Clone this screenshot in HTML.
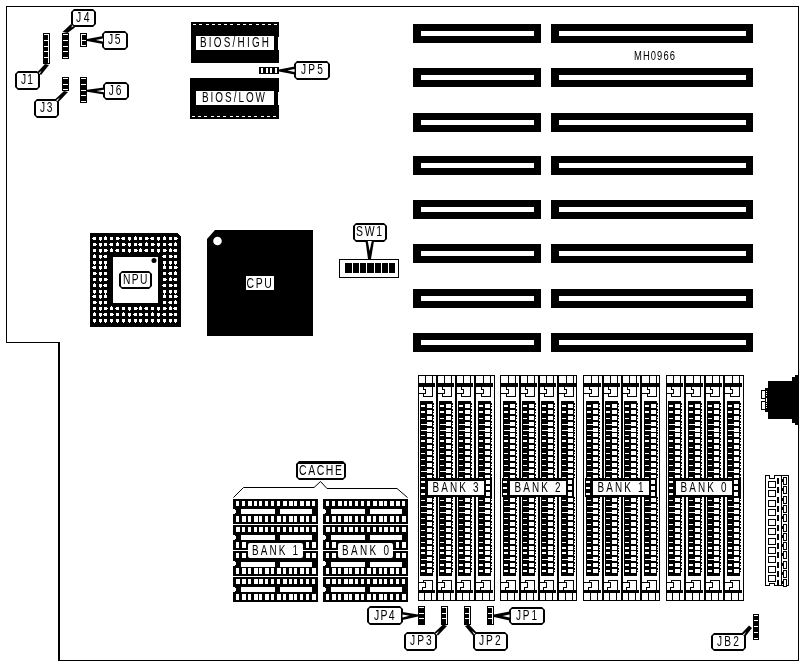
<!DOCTYPE html>
<html><head><meta charset="utf-8"><style>
html,body{margin:0;padding:0;background:#fff;}
svg{display:block;}
text{font-family:"Liberation Sans",sans-serif;}
svg{will-change:transform;}
</style></head><body>
<svg width="804" height="666" viewBox="0 0 804 666">
<rect x="0" y="0" width="804" height="666" fill="#fff"/>
<g shape-rendering="crispEdges">
<rect x="6" y="6" width="793" height="1" fill="#000" />
<rect x="6" y="6" width="1" height="337" fill="#000" />
<rect x="6" y="342" width="54" height="1" fill="#000" />
<rect x="58" y="342" width="2" height="319" fill="#000" />
<rect x="58" y="660" width="741" height="1" fill="#000" />
<rect x="798" y="6" width="1" height="655" fill="#000" />
<rect x="413" y="24" width="128" height="19" fill="#000" />
<rect x="421" y="31" width="113" height="5" fill="#fff" />
<rect x="551" y="24" width="202" height="19" fill="#000" />
<rect x="559" y="31" width="187" height="5" fill="#fff" />
<rect x="413" y="68" width="128" height="19" fill="#000" />
<rect x="421" y="75" width="113" height="5" fill="#fff" />
<rect x="551" y="68" width="202" height="19" fill="#000" />
<rect x="559" y="75" width="187" height="5" fill="#fff" />
<rect x="413" y="113" width="128" height="19" fill="#000" />
<rect x="421" y="120" width="113" height="5" fill="#fff" />
<rect x="551" y="113" width="202" height="19" fill="#000" />
<rect x="559" y="120" width="187" height="5" fill="#fff" />
<rect x="413" y="156" width="128" height="19" fill="#000" />
<rect x="421" y="163" width="113" height="5" fill="#fff" />
<rect x="551" y="156" width="202" height="19" fill="#000" />
<rect x="559" y="163" width="187" height="5" fill="#fff" />
<rect x="413" y="200" width="128" height="19" fill="#000" />
<rect x="421" y="207" width="113" height="5" fill="#fff" />
<rect x="551" y="200" width="202" height="19" fill="#000" />
<rect x="559" y="207" width="187" height="5" fill="#fff" />
<rect x="413" y="244" width="128" height="19" fill="#000" />
<rect x="421" y="251" width="113" height="5" fill="#fff" />
<rect x="551" y="244" width="202" height="19" fill="#000" />
<rect x="559" y="251" width="187" height="5" fill="#fff" />
<rect x="413" y="289" width="128" height="19" fill="#000" />
<rect x="421" y="296" width="113" height="5" fill="#fff" />
<rect x="551" y="289" width="202" height="19" fill="#000" />
<rect x="559" y="296" width="187" height="5" fill="#fff" />
<rect x="413" y="333" width="128" height="19" fill="#000" />
<rect x="421" y="340" width="113" height="5" fill="#fff" />
<rect x="551" y="333" width="202" height="19" fill="#000" />
<rect x="559" y="340" width="187" height="5" fill="#fff" />
</g>
<g transform="translate(634,60) scale(0.72,1)"><text x="0" y="0" font-size="13.08" textLength="56.94" lengthAdjust="spacing" fill="#000" font-weight="normal">MH0966</text></g>
<g shape-rendering="crispEdges">
<rect x="191" y="22" width="88" height="41" fill="#000" />
<rect x="196" y="36" width="78" height="14" fill="#fff" />
<rect x="278" y="37" width="1" height="13" fill="#fff" />
<rect x="193" y="24" width="3" height="1" fill="#fff" />
<rect x="199" y="24" width="3" height="1" fill="#fff" />
<rect x="206" y="24" width="3" height="1" fill="#fff" />
<rect x="212" y="24" width="3" height="1" fill="#fff" />
<rect x="218" y="24" width="3" height="1" fill="#fff" />
<rect x="224" y="24" width="3" height="1" fill="#fff" />
<rect x="230" y="24" width="3" height="1" fill="#fff" />
<rect x="237" y="24" width="3" height="1" fill="#fff" />
<rect x="243" y="24" width="3" height="1" fill="#fff" />
<rect x="249" y="24" width="3" height="1" fill="#fff" />
<rect x="256" y="24" width="3" height="1" fill="#fff" />
<rect x="262" y="24" width="3" height="1" fill="#fff" />
<rect x="268" y="24" width="3" height="1" fill="#fff" />
<rect x="274" y="24" width="3" height="1" fill="#fff" />
<g transform="translate(200,47) scale(0.72,1)"><text x="0" y="0" font-size="13.81" textLength="95.83" lengthAdjust="spacing" fill="#000" font-weight="normal">BIOS/HIGH</text></g>
<rect x="190" y="78" width="89" height="41" fill="#000" />
<rect x="196" y="91" width="78" height="14" fill="#fff" />
<rect x="278" y="92" width="1" height="13" fill="#fff" />
<rect x="192" y="116" width="3" height="1" fill="#fff" />
<rect x="198" y="116" width="3" height="1" fill="#fff" />
<rect x="204" y="116" width="3" height="1" fill="#fff" />
<rect x="211" y="116" width="3" height="1" fill="#fff" />
<rect x="217" y="116" width="3" height="1" fill="#fff" />
<rect x="223" y="116" width="3" height="1" fill="#fff" />
<rect x="230" y="116" width="3" height="1" fill="#fff" />
<rect x="236" y="116" width="3" height="1" fill="#fff" />
<rect x="242" y="116" width="3" height="1" fill="#fff" />
<rect x="248" y="116" width="3" height="1" fill="#fff" />
<rect x="254" y="116" width="3" height="1" fill="#fff" />
<rect x="261" y="116" width="3" height="1" fill="#fff" />
<rect x="267" y="116" width="3" height="1" fill="#fff" />
<rect x="273" y="116" width="3" height="1" fill="#fff" />
<g transform="translate(202,101.8) scale(0.72,1)"><text x="0" y="0" font-size="13.81" textLength="87.50" lengthAdjust="spacing" fill="#000" font-weight="normal">BIOS/LOW</text></g>
</g>
<g shape-rendering="crispEdges">
<rect x="43" y="33" width="7" height="31" fill="#000" />
<rect x="44" y="34" width="5" height="1" fill="#fff" />
<rect x="44" y="39.5" width="5" height="1" fill="#fff" />
<rect x="44" y="45.5" width="5" height="1" fill="#fff" />
<rect x="44" y="51" width="5" height="1" fill="#fff" />
<rect x="44" y="57" width="5" height="1" fill="#fff" />
<rect x="48" y="34" width="1" height="29" fill="#fff" />
<rect x="62" y="33" width="7" height="26" fill="#000" />
<rect x="63" y="34" width="5" height="1" fill="#fff" />
<rect x="63" y="39.5" width="5" height="1" fill="#fff" />
<rect x="63" y="45.5" width="5" height="1" fill="#fff" />
<rect x="63" y="51" width="5" height="1" fill="#fff" />
<rect x="63" y="57" width="5" height="1" fill="#fff" />
<rect x="62" y="77" width="7" height="14" fill="#000" />
<rect x="63" y="78" width="5" height="1" fill="#fff" />
<rect x="63" y="84" width="5" height="1" fill="#fff" />
<rect x="63" y="89" width="5" height="1" fill="#fff" />
<rect x="80" y="77" width="7" height="26" fill="#000" />
<rect x="81" y="78" width="5" height="1" fill="#fff" />
<rect x="81" y="84" width="5" height="1" fill="#fff" />
<rect x="81" y="89.5" width="5" height="1" fill="#fff" />
<rect x="81" y="95" width="5" height="1" fill="#fff" />
<rect x="81" y="101" width="5" height="1" fill="#fff" />
<rect x="80" y="33" width="7" height="14" fill="#000" />
<rect x="81" y="34" width="5" height="1" fill="#fff" />
<rect x="81" y="40" width="5" height="1" fill="#fff" />
<rect x="81" y="45" width="5" height="1" fill="#fff" />
<rect x="81" y="34" width="1" height="12" fill="#fff" />
<rect x="259" y="67" width="20" height="7" fill="#000" />
<rect x="261" y="68" width="2" height="5" fill="#fff" />
<rect x="265.5" y="68" width="2" height="5" fill="#fff" />
<rect x="270" y="68" width="2" height="5" fill="#fff" />
<rect x="274.5" y="68" width="2" height="5" fill="#fff" />
<rect x="753" y="614" width="6" height="26" fill="#000" />
<rect x="754" y="615" width="4" height="1" fill="#fff" />
<rect x="754" y="620" width="4" height="1" fill="#fff" />
<rect x="754" y="626" width="4" height="1" fill="#fff" />
<rect x="754" y="632" width="4" height="1" fill="#fff" />
<rect x="754" y="638" width="4" height="1" fill="#fff" />
<rect x="418" y="606" width="7" height="19" fill="#000" />
<rect x="419" y="607" width="5" height="1" fill="#fff" />
<rect x="419" y="613" width="5" height="1" fill="#fff" />
<rect x="419" y="618" width="5" height="1" fill="#fff" />
<rect x="441" y="606" width="7" height="19" fill="#000" />
<rect x="442" y="607" width="5" height="1" fill="#fff" />
<rect x="442" y="613" width="5" height="1" fill="#fff" />
<rect x="442" y="618" width="5" height="1" fill="#fff" />
<rect x="446" y="607" width="1" height="17" fill="#fff" />
<rect x="464" y="606" width="7" height="19" fill="#000" />
<rect x="465" y="607" width="5" height="1" fill="#fff" />
<rect x="465" y="613" width="5" height="1" fill="#fff" />
<rect x="465" y="618" width="5" height="1" fill="#fff" />
<rect x="469" y="607" width="1" height="17" fill="#fff" />
<rect x="487" y="606" width="7" height="19" fill="#000" />
<rect x="488" y="607" width="5" height="1" fill="#fff" />
<rect x="488" y="613" width="5" height="1" fill="#fff" />
<rect x="488" y="618" width="5" height="1" fill="#fff" />
<rect x="492" y="607" width="1" height="17" fill="#fff" />
</g>
<polygon points="74,9 93,9 96,12 96,24 93,27 74,27 71,24 71,12" fill="#000" stroke="none" stroke-width="1" />
<polygon points="74,11 93,11 94,12 94,24 93,25 74,25 73,24 73,12" fill="#fff" stroke="none" stroke-width="1" />
<g transform="translate(76,22) scale(0.72,1)"><text x="0" y="0" font-size="14.53" textLength="18.75" lengthAdjust="spacing" fill="#000" font-weight="normal">J4</text></g>
<polygon points="105,31 125,31 128,34 128,47 125,50 105,50 102,47 102,34" fill="#000" stroke="none" stroke-width="1" />
<polygon points="105,33 125,33 126,34 126,47 125,48 105,48 104,47 104,34" fill="#fff" stroke="none" stroke-width="1" />
<g transform="translate(108,43.9) scale(0.72,1)"><text x="0" y="0" font-size="14.39" textLength="17.36" lengthAdjust="spacing" fill="#000" font-weight="normal">J5</text></g>
<polygon points="18,71 37,71 40,74 40,87 37,90 18,90 15,87 15,74" fill="#000" stroke="none" stroke-width="1" />
<polygon points="18,73 37,73 38,74 38,87 37,88 18,88 17,87 17,74" fill="#fff" stroke="none" stroke-width="1" />
<g transform="translate(21,84) scale(0.72,1)"><text x="0" y="0" font-size="14.24" textLength="16.67" lengthAdjust="spacing" fill="#000" font-weight="normal">J1</text></g>
<polygon points="37,99 56,99 59,102 59,115 56,118 37,118 34,115 34,102" fill="#000" stroke="none" stroke-width="1" />
<polygon points="37,101 56,101 57,102 57,115 56,116 37,116 36,115 36,102" fill="#fff" stroke="none" stroke-width="1" />
<g transform="translate(40,112) scale(0.72,1)"><text x="0" y="0" font-size="14.10" textLength="17.36" lengthAdjust="spacing" fill="#000" font-weight="normal">J3</text></g>
<polygon points="106,82 126,82 129,85 129,97 126,100 106,100 103,97 103,85" fill="#000" stroke="none" stroke-width="1" />
<polygon points="106,84 126,84 127,85 127,97 126,98 106,98 105,97 105,85" fill="#fff" stroke="none" stroke-width="1" />
<g transform="translate(108.7,95) scale(0.72,1)"><text x="0" y="0" font-size="14.24" textLength="17.78" lengthAdjust="spacing" fill="#000" font-weight="normal">J6</text></g>
<polygon points="297,61 327,61 330,64 330,77 327,80 297,80 294,77 294,64" fill="#000" stroke="none" stroke-width="1" />
<polygon points="297,63 327,63 328,64 328,77 327,78 297,78 296,77 296,64" fill="#fff" stroke="none" stroke-width="1" />
<g transform="translate(301,74) scale(0.72,1)"><text x="0" y="0" font-size="14.10" textLength="30.56" lengthAdjust="spacing" fill="#000" font-weight="normal">JP5</text></g>
<polygon points="356,223 384,223 387,226 387,239 384,242 356,242 353,239 353,226" fill="#000" stroke="none" stroke-width="1" />
<polygon points="356,225 384,225 385,226 385,239 384,240 356,240 355,239 355,226" fill="#fff" stroke="none" stroke-width="1" />
<g transform="translate(356,236) scale(0.72,1)"><text x="0" y="0" font-size="14.53" textLength="36.11" lengthAdjust="spacing" fill="#000" font-weight="normal">SW1</text></g>
<polygon points="714,633 743,633 746,636 746,648 743,651 714,651 711,648 711,636" fill="#000" stroke="none" stroke-width="1" />
<polygon points="714,635 743,635 744,636 744,648 743,649 714,649 713,648 713,636" fill="#fff" stroke="none" stroke-width="1" />
<g transform="translate(717,646) scale(0.72,1)"><text x="0" y="0" font-size="14.10" textLength="30.56" lengthAdjust="spacing" fill="#000" font-weight="normal">JB2</text></g>
<polygon points="370,606 400,606 403,609 403,622 400,625 370,625 367,622 367,609" fill="#000" stroke="none" stroke-width="1" />
<polygon points="370,608 400,608 401,609 401,622 400,623 370,623 369,622 369,609" fill="#fff" stroke="none" stroke-width="1" />
<g transform="translate(374,620) scale(0.72,1)"><text x="0" y="0" font-size="14.53" textLength="28.47" lengthAdjust="spacing" fill="#000" font-weight="normal">JP4</text></g>
<polygon points="407,632 434,632 437,635 437,648 434,651 407,651 404,648 404,635" fill="#000" stroke="none" stroke-width="1" />
<polygon points="407,634 434,634 435,635 435,648 434,649 407,649 406,648 406,635" fill="#fff" stroke="none" stroke-width="1" />
<g transform="translate(410,645) scale(0.72,1)"><text x="0" y="0" font-size="14.24" textLength="30.28" lengthAdjust="spacing" fill="#000" font-weight="normal">JP3</text></g>
<polygon points="476,632 505,632 508,635 508,648 505,651 476,651 473,648 473,635" fill="#000" stroke="none" stroke-width="1" />
<polygon points="476,634 505,634 506,635 506,648 505,649 476,649 475,648 475,635" fill="#fff" stroke="none" stroke-width="1" />
<g transform="translate(479,644.8) scale(0.72,1)"><text x="0" y="0" font-size="14.24" textLength="30.00" lengthAdjust="spacing" fill="#000" font-weight="normal">JP2</text></g>
<polygon points="512,607 542,607 545,610 545,622 542,625 512,625 509,622 509,610" fill="#000" stroke="none" stroke-width="1" />
<polygon points="512,609 542,609 543,610 543,622 542,623 512,623 511,622 511,610" fill="#fff" stroke="none" stroke-width="1" />
<g transform="translate(516,619.7) scale(0.72,1)"><text x="0" y="0" font-size="13.95" textLength="29.17" lengthAdjust="spacing" fill="#000" font-weight="normal">JP1</text></g>
<polygon points="71,24 75,27.5 67.5,33 62.5,32" fill="#000" stroke="none" stroke-width="1" />
<polygon points="72.54845398317588,25.35489723527889 73.45154601682412,26.14510276472111 71.0,27.4375" fill="#fff" stroke="none" stroke-width="1" />
<polygon points="103,36 103,44 87,41 87,39" fill="#000" stroke="none" stroke-width="1" />
<polygon points="103.0,38.5 103.0,41.5 95.8,40.0" fill="#fff" stroke="none" stroke-width="1" />
<polygon points="37.5,72 41,75 49,65 45,64" fill="#000" stroke="none" stroke-width="1" />
<polygon points="38.79444603858082,73.10952517592642 39.70555396141918,73.89047482407358 41.575,70.8" fill="#fff" stroke="none" stroke-width="1" />
<polygon points="55,99.5 58.5,102 68,92 64,91" fill="#000" stroke="none" stroke-width="1" />
<polygon points="56.180386570155285,100.34313326439663 57.319613429844715,101.15686673560337 59.9875,97.5125" fill="#fff" stroke="none" stroke-width="1" />
<polygon points="104,87.5 104,94.5 87,91.8 87,89.8" fill="#000" stroke="none" stroke-width="1" />
<polygon points="104.0,89.7 104.0,92.3 96.35,90.91" fill="#fff" stroke="none" stroke-width="1" />
<polygon points="294.5,66.5 294.5,74.5 279,71.5 279,69.5" fill="#000" stroke="none" stroke-width="1" />
<polygon points="294.5,69.0 294.5,72.0 287.525,70.5" fill="#fff" stroke="none" stroke-width="1" />
<polygon points="365.5,241 374,241 371,259 368,259" fill="#000" stroke="none" stroke-width="1" />
<polygon points="367.75,241.0 371.75,241.0 369.6125,250.9" fill="#fff" stroke="none" stroke-width="1" />
<polygon points="741.5,633.5 745,637 752,628 749,625.5" fill="#000" stroke="none" stroke-width="1" />
<polygon points="742.825735931288,634.825735931288 743.674264068712,635.674264068712 746.15,631.85" fill="#fff" stroke="none" stroke-width="1" />
<polygon points="402.5,612 402.5,620 418,616.5 418,614.5" fill="#000" stroke="none" stroke-width="1" />
<polygon points="402.5,614.5 402.5,617.5 409.475,615.775" fill="#fff" stroke="none" stroke-width="1" />
<polygon points="434.5,632.5 438,635.5 447,626 443,624.5" fill="#000" stroke="none" stroke-width="1" />
<polygon points="435.7944460385808,633.6095251759264 436.7055539614192,634.3904748240736 439.3125,630.9375" fill="#fff" stroke="none" stroke-width="1" />
<polygon points="473,635.5 476.5,632.5 469,624.5 465,626" fill="#000" stroke="none" stroke-width="1" />
<polygon points="474.2944460385808,634.3904748240736 475.2055539614192,633.6095251759264 472.0375,630.9375" fill="#fff" stroke="none" stroke-width="1" />
<polygon points="509.5,611.5 509.5,620.5 494,617 494,614.5" fill="#000" stroke="none" stroke-width="1" />
<polygon points="509.5,614.5 509.5,617.5 502.525,615.8875" fill="#fff" stroke="none" stroke-width="1" />
<g shape-rendering="crispEdges">
<polygon points="90,233 177,233 181,237 181,327 90,327" fill="#000" stroke="none" stroke-width="1" />
<rect x="93" y="237" width="3" height="3" fill="#fff" />
<rect x="92" y="238" width="1" height="1" fill="#fff" />
<rect x="99" y="237" width="3" height="3" fill="#fff" />
<rect x="100" y="240" width="1" height="1" fill="#fff" />
<rect x="104" y="237" width="3" height="3" fill="#fff" />
<rect x="105" y="236" width="1" height="1" fill="#fff" />
<rect x="110" y="237" width="3" height="3" fill="#fff" />
<rect x="116" y="237" width="3" height="3" fill="#fff" />
<rect x="119" y="238" width="1" height="1" fill="#fff" />
<rect x="122" y="237" width="3" height="3" fill="#fff" />
<rect x="121" y="238" width="1" height="1" fill="#fff" />
<rect x="128" y="237" width="3" height="3" fill="#fff" />
<rect x="129" y="240" width="1" height="1" fill="#fff" />
<rect x="134" y="237" width="3" height="3" fill="#fff" />
<rect x="135" y="236" width="1" height="1" fill="#fff" />
<rect x="139" y="237" width="3" height="3" fill="#fff" />
<rect x="145" y="237" width="3" height="3" fill="#fff" />
<rect x="148" y="238" width="1" height="1" fill="#fff" />
<rect x="151" y="237" width="3" height="3" fill="#fff" />
<rect x="150" y="238" width="1" height="1" fill="#fff" />
<rect x="157" y="237" width="3" height="3" fill="#fff" />
<rect x="158" y="240" width="1" height="1" fill="#fff" />
<rect x="163" y="237" width="3" height="3" fill="#fff" />
<rect x="164" y="236" width="1" height="1" fill="#fff" />
<rect x="169" y="237" width="3" height="3" fill="#fff" />
<rect x="174" y="237" width="3" height="3" fill="#fff" />
<rect x="177" y="238" width="1" height="1" fill="#fff" />
<rect x="93" y="243" width="3" height="3" fill="#fff" />
<rect x="96" y="244" width="1" height="1" fill="#fff" />
<rect x="99" y="243" width="3" height="3" fill="#fff" />
<rect x="100" y="246" width="1" height="1" fill="#fff" />
<rect x="104" y="243" width="3" height="3" fill="#fff" />
<rect x="110" y="243" width="3" height="3" fill="#fff" />
<rect x="109" y="244" width="1" height="1" fill="#fff" />
<rect x="116" y="243" width="3" height="3" fill="#fff" />
<rect x="117" y="242" width="1" height="1" fill="#fff" />
<rect x="122" y="243" width="3" height="3" fill="#fff" />
<rect x="125" y="244" width="1" height="1" fill="#fff" />
<rect x="128" y="243" width="3" height="3" fill="#fff" />
<rect x="129" y="246" width="1" height="1" fill="#fff" />
<rect x="134" y="243" width="3" height="3" fill="#fff" />
<rect x="139" y="243" width="3" height="3" fill="#fff" />
<rect x="138" y="244" width="1" height="1" fill="#fff" />
<rect x="145" y="243" width="3" height="3" fill="#fff" />
<rect x="146" y="242" width="1" height="1" fill="#fff" />
<rect x="151" y="243" width="3" height="3" fill="#fff" />
<rect x="154" y="244" width="1" height="1" fill="#fff" />
<rect x="157" y="243" width="3" height="3" fill="#fff" />
<rect x="158" y="246" width="1" height="1" fill="#fff" />
<rect x="163" y="243" width="3" height="3" fill="#fff" />
<rect x="169" y="243" width="3" height="3" fill="#fff" />
<rect x="168" y="244" width="1" height="1" fill="#fff" />
<rect x="174" y="243" width="3" height="3" fill="#fff" />
<rect x="175" y="242" width="1" height="1" fill="#fff" />
<rect x="93" y="249" width="3" height="3" fill="#fff" />
<rect x="99" y="249" width="3" height="3" fill="#fff" />
<rect x="100" y="252" width="1" height="1" fill="#fff" />
<rect x="104" y="249" width="3" height="3" fill="#fff" />
<rect x="107" y="250" width="1" height="1" fill="#fff" />
<rect x="110" y="249" width="3" height="3" fill="#fff" />
<rect x="111" y="248" width="1" height="1" fill="#fff" />
<rect x="116" y="249" width="3" height="3" fill="#fff" />
<rect x="115" y="250" width="1" height="1" fill="#fff" />
<rect x="122" y="249" width="3" height="3" fill="#fff" />
<rect x="128" y="249" width="3" height="3" fill="#fff" />
<rect x="129" y="252" width="1" height="1" fill="#fff" />
<rect x="134" y="249" width="3" height="3" fill="#fff" />
<rect x="137" y="250" width="1" height="1" fill="#fff" />
<rect x="139" y="249" width="3" height="3" fill="#fff" />
<rect x="140" y="248" width="1" height="1" fill="#fff" />
<rect x="145" y="249" width="3" height="3" fill="#fff" />
<rect x="144" y="250" width="1" height="1" fill="#fff" />
<rect x="151" y="249" width="3" height="3" fill="#fff" />
<rect x="157" y="249" width="3" height="3" fill="#fff" />
<rect x="158" y="252" width="1" height="1" fill="#fff" />
<rect x="163" y="249" width="3" height="3" fill="#fff" />
<rect x="166" y="250" width="1" height="1" fill="#fff" />
<rect x="169" y="249" width="3" height="3" fill="#fff" />
<rect x="170" y="248" width="1" height="1" fill="#fff" />
<rect x="174" y="249" width="3" height="3" fill="#fff" />
<rect x="173" y="250" width="1" height="1" fill="#fff" />
<rect x="93" y="255" width="3" height="3" fill="#fff" />
<rect x="94" y="254" width="1" height="1" fill="#fff" />
<rect x="99" y="255" width="3" height="3" fill="#fff" />
<rect x="100" y="258" width="1" height="1" fill="#fff" />
<rect x="104" y="255" width="3" height="3" fill="#fff" />
<rect x="103" y="256" width="1" height="1" fill="#fff" />
<rect x="163" y="255" width="3" height="3" fill="#fff" />
<rect x="162" y="256" width="1" height="1" fill="#fff" />
<rect x="169" y="255" width="3" height="3" fill="#fff" />
<rect x="172" y="256" width="1" height="1" fill="#fff" />
<rect x="174" y="255" width="3" height="3" fill="#fff" />
<rect x="93" y="261" width="3" height="3" fill="#fff" />
<rect x="94" y="264" width="1" height="1" fill="#fff" />
<rect x="99" y="261" width="3" height="3" fill="#fff" />
<rect x="100" y="264" width="1" height="1" fill="#fff" />
<rect x="104" y="261" width="3" height="3" fill="#fff" />
<rect x="105" y="264" width="1" height="1" fill="#fff" />
<rect x="163" y="261" width="3" height="3" fill="#fff" />
<rect x="164" y="264" width="1" height="1" fill="#fff" />
<rect x="169" y="261" width="3" height="3" fill="#fff" />
<rect x="170" y="264" width="1" height="1" fill="#fff" />
<rect x="174" y="261" width="3" height="3" fill="#fff" />
<rect x="175" y="264" width="1" height="1" fill="#fff" />
<rect x="93" y="266" width="3" height="3" fill="#fff" />
<rect x="92" y="267" width="1" height="1" fill="#fff" />
<rect x="99" y="266" width="3" height="3" fill="#fff" />
<rect x="100" y="269" width="1" height="1" fill="#fff" />
<rect x="104" y="266" width="3" height="3" fill="#fff" />
<rect x="105" y="265" width="1" height="1" fill="#fff" />
<rect x="163" y="266" width="3" height="3" fill="#fff" />
<rect x="164" y="265" width="1" height="1" fill="#fff" />
<rect x="169" y="266" width="3" height="3" fill="#fff" />
<rect x="174" y="266" width="3" height="3" fill="#fff" />
<rect x="177" y="267" width="1" height="1" fill="#fff" />
<rect x="93" y="272" width="3" height="3" fill="#fff" />
<rect x="96" y="273" width="1" height="1" fill="#fff" />
<rect x="99" y="272" width="3" height="3" fill="#fff" />
<rect x="100" y="275" width="1" height="1" fill="#fff" />
<rect x="104" y="272" width="3" height="3" fill="#fff" />
<rect x="163" y="272" width="3" height="3" fill="#fff" />
<rect x="169" y="272" width="3" height="3" fill="#fff" />
<rect x="168" y="273" width="1" height="1" fill="#fff" />
<rect x="174" y="272" width="3" height="3" fill="#fff" />
<rect x="175" y="271" width="1" height="1" fill="#fff" />
<rect x="93" y="278" width="3" height="3" fill="#fff" />
<rect x="99" y="278" width="3" height="3" fill="#fff" />
<rect x="100" y="281" width="1" height="1" fill="#fff" />
<rect x="104" y="278" width="3" height="3" fill="#fff" />
<rect x="107" y="279" width="1" height="1" fill="#fff" />
<rect x="163" y="278" width="3" height="3" fill="#fff" />
<rect x="166" y="279" width="1" height="1" fill="#fff" />
<rect x="169" y="278" width="3" height="3" fill="#fff" />
<rect x="170" y="277" width="1" height="1" fill="#fff" />
<rect x="174" y="278" width="3" height="3" fill="#fff" />
<rect x="173" y="279" width="1" height="1" fill="#fff" />
<rect x="93" y="284" width="3" height="3" fill="#fff" />
<rect x="94" y="283" width="1" height="1" fill="#fff" />
<rect x="99" y="284" width="3" height="3" fill="#fff" />
<rect x="100" y="287" width="1" height="1" fill="#fff" />
<rect x="104" y="284" width="3" height="3" fill="#fff" />
<rect x="103" y="285" width="1" height="1" fill="#fff" />
<rect x="163" y="284" width="3" height="3" fill="#fff" />
<rect x="162" y="285" width="1" height="1" fill="#fff" />
<rect x="169" y="284" width="3" height="3" fill="#fff" />
<rect x="172" y="285" width="1" height="1" fill="#fff" />
<rect x="174" y="284" width="3" height="3" fill="#fff" />
<rect x="93" y="290" width="3" height="3" fill="#fff" />
<rect x="94" y="293" width="1" height="1" fill="#fff" />
<rect x="99" y="290" width="3" height="3" fill="#fff" />
<rect x="100" y="293" width="1" height="1" fill="#fff" />
<rect x="104" y="290" width="3" height="3" fill="#fff" />
<rect x="105" y="293" width="1" height="1" fill="#fff" />
<rect x="163" y="290" width="3" height="3" fill="#fff" />
<rect x="164" y="293" width="1" height="1" fill="#fff" />
<rect x="169" y="290" width="3" height="3" fill="#fff" />
<rect x="170" y="293" width="1" height="1" fill="#fff" />
<rect x="174" y="290" width="3" height="3" fill="#fff" />
<rect x="175" y="293" width="1" height="1" fill="#fff" />
<rect x="93" y="295" width="3" height="3" fill="#fff" />
<rect x="92" y="296" width="1" height="1" fill="#fff" />
<rect x="99" y="295" width="3" height="3" fill="#fff" />
<rect x="100" y="298" width="1" height="1" fill="#fff" />
<rect x="104" y="295" width="3" height="3" fill="#fff" />
<rect x="105" y="294" width="1" height="1" fill="#fff" />
<rect x="163" y="295" width="3" height="3" fill="#fff" />
<rect x="164" y="294" width="1" height="1" fill="#fff" />
<rect x="169" y="295" width="3" height="3" fill="#fff" />
<rect x="174" y="295" width="3" height="3" fill="#fff" />
<rect x="177" y="296" width="1" height="1" fill="#fff" />
<rect x="93" y="301" width="3" height="3" fill="#fff" />
<rect x="96" y="302" width="1" height="1" fill="#fff" />
<rect x="99" y="301" width="3" height="3" fill="#fff" />
<rect x="100" y="304" width="1" height="1" fill="#fff" />
<rect x="104" y="301" width="3" height="3" fill="#fff" />
<rect x="163" y="301" width="3" height="3" fill="#fff" />
<rect x="169" y="301" width="3" height="3" fill="#fff" />
<rect x="168" y="302" width="1" height="1" fill="#fff" />
<rect x="174" y="301" width="3" height="3" fill="#fff" />
<rect x="175" y="300" width="1" height="1" fill="#fff" />
<rect x="93" y="307" width="3" height="3" fill="#fff" />
<rect x="99" y="307" width="3" height="3" fill="#fff" />
<rect x="100" y="310" width="1" height="1" fill="#fff" />
<rect x="104" y="307" width="3" height="3" fill="#fff" />
<rect x="107" y="308" width="1" height="1" fill="#fff" />
<rect x="110" y="307" width="3" height="3" fill="#fff" />
<rect x="111" y="306" width="1" height="1" fill="#fff" />
<rect x="116" y="307" width="3" height="3" fill="#fff" />
<rect x="115" y="308" width="1" height="1" fill="#fff" />
<rect x="122" y="307" width="3" height="3" fill="#fff" />
<rect x="128" y="307" width="3" height="3" fill="#fff" />
<rect x="129" y="310" width="1" height="1" fill="#fff" />
<rect x="134" y="307" width="3" height="3" fill="#fff" />
<rect x="137" y="308" width="1" height="1" fill="#fff" />
<rect x="139" y="307" width="3" height="3" fill="#fff" />
<rect x="140" y="306" width="1" height="1" fill="#fff" />
<rect x="145" y="307" width="3" height="3" fill="#fff" />
<rect x="144" y="308" width="1" height="1" fill="#fff" />
<rect x="151" y="307" width="3" height="3" fill="#fff" />
<rect x="157" y="307" width="3" height="3" fill="#fff" />
<rect x="158" y="310" width="1" height="1" fill="#fff" />
<rect x="163" y="307" width="3" height="3" fill="#fff" />
<rect x="166" y="308" width="1" height="1" fill="#fff" />
<rect x="169" y="307" width="3" height="3" fill="#fff" />
<rect x="170" y="306" width="1" height="1" fill="#fff" />
<rect x="174" y="307" width="3" height="3" fill="#fff" />
<rect x="173" y="308" width="1" height="1" fill="#fff" />
<rect x="93" y="313" width="3" height="3" fill="#fff" />
<rect x="94" y="312" width="1" height="1" fill="#fff" />
<rect x="99" y="313" width="3" height="3" fill="#fff" />
<rect x="100" y="316" width="1" height="1" fill="#fff" />
<rect x="104" y="313" width="3" height="3" fill="#fff" />
<rect x="103" y="314" width="1" height="1" fill="#fff" />
<rect x="110" y="313" width="3" height="3" fill="#fff" />
<rect x="113" y="314" width="1" height="1" fill="#fff" />
<rect x="116" y="313" width="3" height="3" fill="#fff" />
<rect x="122" y="313" width="3" height="3" fill="#fff" />
<rect x="123" y="312" width="1" height="1" fill="#fff" />
<rect x="128" y="313" width="3" height="3" fill="#fff" />
<rect x="129" y="316" width="1" height="1" fill="#fff" />
<rect x="134" y="313" width="3" height="3" fill="#fff" />
<rect x="133" y="314" width="1" height="1" fill="#fff" />
<rect x="139" y="313" width="3" height="3" fill="#fff" />
<rect x="142" y="314" width="1" height="1" fill="#fff" />
<rect x="145" y="313" width="3" height="3" fill="#fff" />
<rect x="151" y="313" width="3" height="3" fill="#fff" />
<rect x="152" y="312" width="1" height="1" fill="#fff" />
<rect x="157" y="313" width="3" height="3" fill="#fff" />
<rect x="158" y="316" width="1" height="1" fill="#fff" />
<rect x="163" y="313" width="3" height="3" fill="#fff" />
<rect x="162" y="314" width="1" height="1" fill="#fff" />
<rect x="169" y="313" width="3" height="3" fill="#fff" />
<rect x="172" y="314" width="1" height="1" fill="#fff" />
<rect x="174" y="313" width="3" height="3" fill="#fff" />
<rect x="93" y="319" width="3" height="3" fill="#fff" />
<rect x="94" y="322" width="1" height="1" fill="#fff" />
<rect x="99" y="319" width="3" height="3" fill="#fff" />
<rect x="100" y="322" width="1" height="1" fill="#fff" />
<rect x="104" y="319" width="3" height="3" fill="#fff" />
<rect x="105" y="322" width="1" height="1" fill="#fff" />
<rect x="110" y="319" width="3" height="3" fill="#fff" />
<rect x="111" y="322" width="1" height="1" fill="#fff" />
<rect x="116" y="319" width="3" height="3" fill="#fff" />
<rect x="117" y="322" width="1" height="1" fill="#fff" />
<rect x="122" y="319" width="3" height="3" fill="#fff" />
<rect x="123" y="322" width="1" height="1" fill="#fff" />
<rect x="128" y="319" width="3" height="3" fill="#fff" />
<rect x="129" y="322" width="1" height="1" fill="#fff" />
<rect x="134" y="319" width="3" height="3" fill="#fff" />
<rect x="135" y="322" width="1" height="1" fill="#fff" />
<rect x="139" y="319" width="3" height="3" fill="#fff" />
<rect x="140" y="322" width="1" height="1" fill="#fff" />
<rect x="145" y="319" width="3" height="3" fill="#fff" />
<rect x="146" y="322" width="1" height="1" fill="#fff" />
<rect x="151" y="319" width="3" height="3" fill="#fff" />
<rect x="152" y="322" width="1" height="1" fill="#fff" />
<rect x="157" y="319" width="3" height="3" fill="#fff" />
<rect x="158" y="322" width="1" height="1" fill="#fff" />
<rect x="163" y="319" width="3" height="3" fill="#fff" />
<rect x="164" y="322" width="1" height="1" fill="#fff" />
<rect x="169" y="319" width="3" height="3" fill="#fff" />
<rect x="170" y="322" width="1" height="1" fill="#fff" />
<rect x="174" y="319" width="3" height="3" fill="#fff" />
<rect x="175" y="322" width="1" height="1" fill="#fff" />
<rect x="113" y="257" width="45" height="46" fill="#fff" />
</g>
<circle cx="154" cy="260.5" r="2.5" fill="#000"/>
<polygon points="122,271 149,271 152,274 152,286 149,289 122,289 119,286 119,274" fill="#000" stroke="none" stroke-width="1" />
<polygon points="122,273 149,273 150,274 150,286 149,287 122,287 121,286 121,274" fill="#fff" stroke="none" stroke-width="1" />
<g transform="translate(123,283.8) scale(0.72,1)"><text x="0" y="0" font-size="14.24" textLength="34.03" lengthAdjust="spacing" fill="#000" font-weight="normal">NPU</text></g>
<polygon points="215,230 313,230 313,336 207,336 207,239" fill="#000" stroke="none" stroke-width="1" />
<circle cx="217.5" cy="241" r="4.3" fill="#fff"/>
<rect x="246" y="276" width="28" height="14" fill="#fff" />
<g transform="translate(246.5,288) scale(0.72,1)"><text x="0" y="0" font-size="14.53" textLength="35.14" lengthAdjust="spacing" fill="#000" font-weight="normal">CPU</text></g>
<g shape-rendering="crispEdges">
<rect x="339" y="259" width="60" height="19" fill="#000" />
<rect x="340" y="260" width="58" height="17" fill="#fff" />
<rect x="345" y="263" width="50" height="10" fill="#000" />
<rect x="352" y="263" width="1" height="10" fill="#fff" />
<rect x="359" y="263" width="1" height="10" fill="#fff" />
<rect x="366" y="263" width="1" height="10" fill="#fff" />
<rect x="374" y="263" width="1" height="10" fill="#fff" />
<rect x="381" y="263" width="1" height="10" fill="#fff" />
<rect x="388" y="263" width="1" height="10" fill="#fff" />
</g>
<g shape-rendering="crispEdges">
<rect x="418" y="375" width="77" height="1" fill="#000" />
<rect x="418" y="600" width="77" height="1" fill="#000" />
<rect x="418" y="375" width="1" height="226" fill="#000" />
<rect x="494" y="375" width="1" height="226" fill="#000" />
<rect x="436" y="375" width="2" height="226" fill="#000" />
<rect x="425" y="376" width="1" height="7" fill="#000" />
<rect x="432" y="376" width="1" height="7" fill="#000" />
<rect x="424" y="593" width="1" height="7" fill="#000" />
<rect x="431" y="593" width="1" height="7" fill="#000" />
<rect x="418" y="383" width="17" height="4" fill="#000" />
<rect x="418" y="590" width="17" height="3" fill="#000" />
<polyline points="432.5,387 432.5,396.5 423.5,396.5 423.5,393.5 418,393.5" fill="none" stroke="#000" stroke-width="1" />
<polyline points="423.5,387 423.5,389.5 425.5,389.5 425.5,393.5 423,393.5" fill="none" stroke="#000" stroke-width="1" />
<polyline points="432.5,590 432.5,580.5 423.5,580.5 423.5,582.5 418,582.5" fill="none" stroke="#000" stroke-width="1" />
<polyline points="422.5,590 422.5,587.5 425.5,587.5 425.5,582.5 423,582.5" fill="none" stroke="#000" stroke-width="1" />
<rect x="420" y="401" width="13" height="175" fill="#000" />
<rect x="427" y="404" width="5" height="4" fill="#fff" />
<rect x="421" y="405" width="4" height="2" fill="#fff" />
<rect x="433" y="403" width="1" height="2" fill="#000" />
<rect x="433" y="406" width="1" height="1" fill="#000" />
<rect x="427" y="410" width="5" height="4" fill="#fff" />
<rect x="421" y="411" width="4" height="2" fill="#fff" />
<rect x="433" y="409" width="1" height="2" fill="#000" />
<rect x="433" y="412" width="1" height="1" fill="#000" />
<rect x="427" y="416" width="5" height="4" fill="#fff" />
<rect x="421" y="418" width="4" height="1" fill="#fff" />
<rect x="433" y="415" width="1" height="2" fill="#000" />
<rect x="433" y="418" width="1" height="1" fill="#000" />
<rect x="427" y="422" width="5" height="4" fill="#fff" />
<rect x="421" y="424" width="6" height="1" fill="#fff" />
<rect x="433" y="421" width="1" height="2" fill="#000" />
<rect x="433" y="424" width="1" height="1" fill="#000" />
<rect x="427" y="428" width="5" height="4" fill="#fff" />
<rect x="421" y="430" width="6" height="1" fill="#fff" />
<rect x="433" y="427" width="1" height="2" fill="#000" />
<rect x="433" y="430" width="1" height="1" fill="#000" />
<rect x="427" y="433" width="5" height="4" fill="#fff" />
<rect x="421" y="435" width="4" height="1" fill="#fff" />
<rect x="433" y="432" width="1" height="2" fill="#000" />
<rect x="433" y="435" width="1" height="1" fill="#000" />
<rect x="427" y="439" width="5" height="4" fill="#fff" />
<rect x="421" y="440" width="4" height="2" fill="#fff" />
<rect x="433" y="438" width="1" height="2" fill="#000" />
<rect x="433" y="441" width="1" height="1" fill="#000" />
<rect x="427" y="445" width="5" height="4" fill="#fff" />
<rect x="421" y="447" width="4" height="1" fill="#fff" />
<rect x="433" y="444" width="1" height="2" fill="#000" />
<rect x="433" y="447" width="1" height="1" fill="#000" />
<rect x="427" y="451" width="5" height="4" fill="#fff" />
<rect x="421" y="453" width="4" height="1" fill="#fff" />
<rect x="433" y="450" width="1" height="2" fill="#000" />
<rect x="433" y="453" width="1" height="1" fill="#000" />
<rect x="427" y="457" width="5" height="4" fill="#fff" />
<rect x="421" y="459" width="4" height="1" fill="#fff" />
<rect x="433" y="456" width="1" height="2" fill="#000" />
<rect x="433" y="459" width="1" height="1" fill="#000" />
<rect x="427" y="463" width="5" height="4" fill="#fff" />
<rect x="421" y="465" width="4" height="1" fill="#fff" />
<rect x="433" y="462" width="1" height="2" fill="#000" />
<rect x="433" y="465" width="1" height="1" fill="#000" />
<rect x="427" y="469" width="5" height="4" fill="#fff" />
<rect x="421" y="471" width="6" height="1" fill="#fff" />
<rect x="433" y="468" width="1" height="2" fill="#000" />
<rect x="433" y="471" width="1" height="1" fill="#000" />
<rect x="427" y="475" width="5" height="4" fill="#fff" />
<rect x="421" y="477" width="4" height="1" fill="#fff" />
<rect x="433" y="474" width="1" height="2" fill="#000" />
<rect x="433" y="477" width="1" height="1" fill="#000" />
<rect x="427" y="498" width="5" height="4" fill="#fff" />
<rect x="421" y="500" width="4" height="1" fill="#fff" />
<rect x="433" y="497" width="1" height="2" fill="#000" />
<rect x="433" y="500" width="1" height="1" fill="#000" />
<rect x="427" y="504" width="5" height="4" fill="#fff" />
<rect x="421" y="506" width="6" height="1" fill="#fff" />
<rect x="433" y="503" width="1" height="2" fill="#000" />
<rect x="433" y="506" width="1" height="1" fill="#000" />
<rect x="427" y="510" width="5" height="4" fill="#fff" />
<rect x="421" y="512" width="6" height="1" fill="#fff" />
<rect x="433" y="509" width="1" height="2" fill="#000" />
<rect x="433" y="512" width="1" height="1" fill="#000" />
<rect x="427" y="516" width="5" height="4" fill="#fff" />
<rect x="421" y="518" width="4" height="1" fill="#fff" />
<rect x="433" y="515" width="1" height="2" fill="#000" />
<rect x="433" y="518" width="1" height="1" fill="#000" />
<rect x="427" y="522" width="5" height="4" fill="#fff" />
<rect x="421" y="524" width="4" height="1" fill="#fff" />
<rect x="433" y="521" width="1" height="2" fill="#000" />
<rect x="433" y="524" width="1" height="1" fill="#000" />
<rect x="427" y="528" width="5" height="4" fill="#fff" />
<rect x="421" y="530" width="4" height="1" fill="#fff" />
<rect x="433" y="527" width="1" height="2" fill="#000" />
<rect x="433" y="530" width="1" height="1" fill="#000" />
<rect x="427" y="534" width="5" height="4" fill="#fff" />
<rect x="421" y="536" width="4" height="1" fill="#fff" />
<rect x="433" y="533" width="1" height="2" fill="#000" />
<rect x="433" y="536" width="1" height="1" fill="#000" />
<rect x="427" y="540" width="5" height="4" fill="#fff" />
<rect x="421" y="542" width="4" height="1" fill="#fff" />
<rect x="433" y="539" width="1" height="2" fill="#000" />
<rect x="433" y="542" width="1" height="1" fill="#000" />
<rect x="427" y="546" width="5" height="4" fill="#fff" />
<rect x="421" y="547" width="4" height="2" fill="#fff" />
<rect x="433" y="545" width="1" height="2" fill="#000" />
<rect x="433" y="548" width="1" height="1" fill="#000" />
<rect x="427" y="551" width="5" height="4" fill="#fff" />
<rect x="421" y="552" width="4" height="2" fill="#fff" />
<rect x="433" y="550" width="1" height="2" fill="#000" />
<rect x="433" y="553" width="1" height="1" fill="#000" />
<rect x="427" y="557" width="5" height="4" fill="#fff" />
<rect x="421" y="559" width="6" height="1" fill="#fff" />
<rect x="433" y="556" width="1" height="2" fill="#000" />
<rect x="433" y="559" width="1" height="1" fill="#000" />
<rect x="427" y="563" width="5" height="4" fill="#fff" />
<rect x="421" y="564" width="4" height="2" fill="#fff" />
<rect x="433" y="562" width="1" height="2" fill="#000" />
<rect x="433" y="565" width="1" height="1" fill="#000" />
<rect x="427" y="569" width="5" height="4" fill="#fff" />
<rect x="421" y="570" width="4" height="2" fill="#fff" />
<rect x="433" y="568" width="1" height="2" fill="#000" />
<rect x="433" y="571" width="1" height="1" fill="#000" />
<rect x="455" y="375" width="2" height="226" fill="#000" />
<rect x="444" y="376" width="1" height="7" fill="#000" />
<rect x="451" y="376" width="1" height="7" fill="#000" />
<rect x="443" y="593" width="1" height="7" fill="#000" />
<rect x="450" y="593" width="1" height="7" fill="#000" />
<rect x="437" y="383" width="17" height="4" fill="#000" />
<rect x="437" y="590" width="17" height="3" fill="#000" />
<polyline points="451.5,387 451.5,396.5 442.5,396.5 442.5,393.5 437,393.5" fill="none" stroke="#000" stroke-width="1" />
<polyline points="442.5,387 442.5,389.5 444.5,389.5 444.5,393.5 442,393.5" fill="none" stroke="#000" stroke-width="1" />
<polyline points="451.5,590 451.5,580.5 442.5,580.5 442.5,582.5 437,582.5" fill="none" stroke="#000" stroke-width="1" />
<polyline points="441.5,590 441.5,587.5 444.5,587.5 444.5,582.5 442,582.5" fill="none" stroke="#000" stroke-width="1" />
<rect x="439" y="401" width="13" height="175" fill="#000" />
<rect x="446" y="404" width="5" height="4" fill="#fff" />
<rect x="440" y="405" width="4" height="2" fill="#fff" />
<rect x="452" y="403" width="1" height="2" fill="#000" />
<rect x="452" y="406" width="1" height="1" fill="#000" />
<rect x="446" y="410" width="5" height="4" fill="#fff" />
<rect x="440" y="411" width="4" height="2" fill="#fff" />
<rect x="452" y="409" width="1" height="2" fill="#000" />
<rect x="452" y="412" width="1" height="1" fill="#000" />
<rect x="446" y="416" width="5" height="4" fill="#fff" />
<rect x="440" y="418" width="4" height="1" fill="#fff" />
<rect x="452" y="415" width="1" height="2" fill="#000" />
<rect x="452" y="418" width="1" height="1" fill="#000" />
<rect x="446" y="422" width="5" height="4" fill="#fff" />
<rect x="440" y="424" width="6" height="1" fill="#fff" />
<rect x="452" y="421" width="1" height="2" fill="#000" />
<rect x="452" y="424" width="1" height="1" fill="#000" />
<rect x="446" y="428" width="5" height="4" fill="#fff" />
<rect x="440" y="430" width="6" height="1" fill="#fff" />
<rect x="452" y="427" width="1" height="2" fill="#000" />
<rect x="452" y="430" width="1" height="1" fill="#000" />
<rect x="446" y="433" width="5" height="4" fill="#fff" />
<rect x="440" y="435" width="4" height="1" fill="#fff" />
<rect x="452" y="432" width="1" height="2" fill="#000" />
<rect x="452" y="435" width="1" height="1" fill="#000" />
<rect x="446" y="439" width="5" height="4" fill="#fff" />
<rect x="440" y="440" width="4" height="2" fill="#fff" />
<rect x="452" y="438" width="1" height="2" fill="#000" />
<rect x="452" y="441" width="1" height="1" fill="#000" />
<rect x="446" y="445" width="5" height="4" fill="#fff" />
<rect x="440" y="447" width="4" height="1" fill="#fff" />
<rect x="452" y="444" width="1" height="2" fill="#000" />
<rect x="452" y="447" width="1" height="1" fill="#000" />
<rect x="446" y="451" width="5" height="4" fill="#fff" />
<rect x="440" y="453" width="4" height="1" fill="#fff" />
<rect x="452" y="450" width="1" height="2" fill="#000" />
<rect x="452" y="453" width="1" height="1" fill="#000" />
<rect x="446" y="457" width="5" height="4" fill="#fff" />
<rect x="440" y="459" width="4" height="1" fill="#fff" />
<rect x="452" y="456" width="1" height="2" fill="#000" />
<rect x="452" y="459" width="1" height="1" fill="#000" />
<rect x="446" y="463" width="5" height="4" fill="#fff" />
<rect x="440" y="465" width="4" height="1" fill="#fff" />
<rect x="452" y="462" width="1" height="2" fill="#000" />
<rect x="452" y="465" width="1" height="1" fill="#000" />
<rect x="446" y="469" width="5" height="4" fill="#fff" />
<rect x="440" y="471" width="6" height="1" fill="#fff" />
<rect x="452" y="468" width="1" height="2" fill="#000" />
<rect x="452" y="471" width="1" height="1" fill="#000" />
<rect x="446" y="475" width="5" height="4" fill="#fff" />
<rect x="440" y="477" width="4" height="1" fill="#fff" />
<rect x="452" y="474" width="1" height="2" fill="#000" />
<rect x="452" y="477" width="1" height="1" fill="#000" />
<rect x="446" y="498" width="5" height="4" fill="#fff" />
<rect x="440" y="500" width="4" height="1" fill="#fff" />
<rect x="452" y="497" width="1" height="2" fill="#000" />
<rect x="452" y="500" width="1" height="1" fill="#000" />
<rect x="446" y="504" width="5" height="4" fill="#fff" />
<rect x="440" y="506" width="6" height="1" fill="#fff" />
<rect x="452" y="503" width="1" height="2" fill="#000" />
<rect x="452" y="506" width="1" height="1" fill="#000" />
<rect x="446" y="510" width="5" height="4" fill="#fff" />
<rect x="440" y="512" width="6" height="1" fill="#fff" />
<rect x="452" y="509" width="1" height="2" fill="#000" />
<rect x="452" y="512" width="1" height="1" fill="#000" />
<rect x="446" y="516" width="5" height="4" fill="#fff" />
<rect x="440" y="518" width="4" height="1" fill="#fff" />
<rect x="452" y="515" width="1" height="2" fill="#000" />
<rect x="452" y="518" width="1" height="1" fill="#000" />
<rect x="446" y="522" width="5" height="4" fill="#fff" />
<rect x="440" y="524" width="4" height="1" fill="#fff" />
<rect x="452" y="521" width="1" height="2" fill="#000" />
<rect x="452" y="524" width="1" height="1" fill="#000" />
<rect x="446" y="528" width="5" height="4" fill="#fff" />
<rect x="440" y="530" width="4" height="1" fill="#fff" />
<rect x="452" y="527" width="1" height="2" fill="#000" />
<rect x="452" y="530" width="1" height="1" fill="#000" />
<rect x="446" y="534" width="5" height="4" fill="#fff" />
<rect x="440" y="536" width="4" height="1" fill="#fff" />
<rect x="452" y="533" width="1" height="2" fill="#000" />
<rect x="452" y="536" width="1" height="1" fill="#000" />
<rect x="446" y="540" width="5" height="4" fill="#fff" />
<rect x="440" y="542" width="4" height="1" fill="#fff" />
<rect x="452" y="539" width="1" height="2" fill="#000" />
<rect x="452" y="542" width="1" height="1" fill="#000" />
<rect x="446" y="546" width="5" height="4" fill="#fff" />
<rect x="440" y="547" width="4" height="2" fill="#fff" />
<rect x="452" y="545" width="1" height="2" fill="#000" />
<rect x="452" y="548" width="1" height="1" fill="#000" />
<rect x="446" y="551" width="5" height="4" fill="#fff" />
<rect x="440" y="552" width="4" height="2" fill="#fff" />
<rect x="452" y="550" width="1" height="2" fill="#000" />
<rect x="452" y="553" width="1" height="1" fill="#000" />
<rect x="446" y="557" width="5" height="4" fill="#fff" />
<rect x="440" y="559" width="6" height="1" fill="#fff" />
<rect x="452" y="556" width="1" height="2" fill="#000" />
<rect x="452" y="559" width="1" height="1" fill="#000" />
<rect x="446" y="563" width="5" height="4" fill="#fff" />
<rect x="440" y="564" width="4" height="2" fill="#fff" />
<rect x="452" y="562" width="1" height="2" fill="#000" />
<rect x="452" y="565" width="1" height="1" fill="#000" />
<rect x="446" y="569" width="5" height="4" fill="#fff" />
<rect x="440" y="570" width="4" height="2" fill="#fff" />
<rect x="452" y="568" width="1" height="2" fill="#000" />
<rect x="452" y="571" width="1" height="1" fill="#000" />
<rect x="474" y="375" width="2" height="226" fill="#000" />
<rect x="463" y="376" width="1" height="7" fill="#000" />
<rect x="470" y="376" width="1" height="7" fill="#000" />
<rect x="462" y="593" width="1" height="7" fill="#000" />
<rect x="469" y="593" width="1" height="7" fill="#000" />
<rect x="456" y="383" width="17" height="4" fill="#000" />
<rect x="456" y="590" width="17" height="3" fill="#000" />
<polyline points="470.5,387 470.5,396.5 461.5,396.5 461.5,393.5 456,393.5" fill="none" stroke="#000" stroke-width="1" />
<polyline points="461.5,387 461.5,389.5 463.5,389.5 463.5,393.5 461,393.5" fill="none" stroke="#000" stroke-width="1" />
<polyline points="470.5,590 470.5,580.5 461.5,580.5 461.5,582.5 456,582.5" fill="none" stroke="#000" stroke-width="1" />
<polyline points="460.5,590 460.5,587.5 463.5,587.5 463.5,582.5 461,582.5" fill="none" stroke="#000" stroke-width="1" />
<rect x="458" y="401" width="13" height="175" fill="#000" />
<rect x="465" y="404" width="5" height="4" fill="#fff" />
<rect x="459" y="405" width="4" height="2" fill="#fff" />
<rect x="471" y="403" width="1" height="2" fill="#000" />
<rect x="471" y="406" width="1" height="1" fill="#000" />
<rect x="465" y="410" width="5" height="4" fill="#fff" />
<rect x="459" y="411" width="4" height="2" fill="#fff" />
<rect x="471" y="409" width="1" height="2" fill="#000" />
<rect x="471" y="412" width="1" height="1" fill="#000" />
<rect x="465" y="416" width="5" height="4" fill="#fff" />
<rect x="459" y="418" width="4" height="1" fill="#fff" />
<rect x="471" y="415" width="1" height="2" fill="#000" />
<rect x="471" y="418" width="1" height="1" fill="#000" />
<rect x="465" y="422" width="5" height="4" fill="#fff" />
<rect x="459" y="424" width="6" height="1" fill="#fff" />
<rect x="471" y="421" width="1" height="2" fill="#000" />
<rect x="471" y="424" width="1" height="1" fill="#000" />
<rect x="465" y="428" width="5" height="4" fill="#fff" />
<rect x="459" y="430" width="6" height="1" fill="#fff" />
<rect x="471" y="427" width="1" height="2" fill="#000" />
<rect x="471" y="430" width="1" height="1" fill="#000" />
<rect x="465" y="433" width="5" height="4" fill="#fff" />
<rect x="459" y="435" width="4" height="1" fill="#fff" />
<rect x="471" y="432" width="1" height="2" fill="#000" />
<rect x="471" y="435" width="1" height="1" fill="#000" />
<rect x="465" y="439" width="5" height="4" fill="#fff" />
<rect x="459" y="440" width="4" height="2" fill="#fff" />
<rect x="471" y="438" width="1" height="2" fill="#000" />
<rect x="471" y="441" width="1" height="1" fill="#000" />
<rect x="465" y="445" width="5" height="4" fill="#fff" />
<rect x="459" y="447" width="4" height="1" fill="#fff" />
<rect x="471" y="444" width="1" height="2" fill="#000" />
<rect x="471" y="447" width="1" height="1" fill="#000" />
<rect x="465" y="451" width="5" height="4" fill="#fff" />
<rect x="459" y="453" width="4" height="1" fill="#fff" />
<rect x="471" y="450" width="1" height="2" fill="#000" />
<rect x="471" y="453" width="1" height="1" fill="#000" />
<rect x="465" y="457" width="5" height="4" fill="#fff" />
<rect x="459" y="459" width="4" height="1" fill="#fff" />
<rect x="471" y="456" width="1" height="2" fill="#000" />
<rect x="471" y="459" width="1" height="1" fill="#000" />
<rect x="465" y="463" width="5" height="4" fill="#fff" />
<rect x="459" y="465" width="4" height="1" fill="#fff" />
<rect x="471" y="462" width="1" height="2" fill="#000" />
<rect x="471" y="465" width="1" height="1" fill="#000" />
<rect x="465" y="469" width="5" height="4" fill="#fff" />
<rect x="459" y="471" width="6" height="1" fill="#fff" />
<rect x="471" y="468" width="1" height="2" fill="#000" />
<rect x="471" y="471" width="1" height="1" fill="#000" />
<rect x="465" y="475" width="5" height="4" fill="#fff" />
<rect x="459" y="477" width="4" height="1" fill="#fff" />
<rect x="471" y="474" width="1" height="2" fill="#000" />
<rect x="471" y="477" width="1" height="1" fill="#000" />
<rect x="465" y="498" width="5" height="4" fill="#fff" />
<rect x="459" y="500" width="4" height="1" fill="#fff" />
<rect x="471" y="497" width="1" height="2" fill="#000" />
<rect x="471" y="500" width="1" height="1" fill="#000" />
<rect x="465" y="504" width="5" height="4" fill="#fff" />
<rect x="459" y="506" width="6" height="1" fill="#fff" />
<rect x="471" y="503" width="1" height="2" fill="#000" />
<rect x="471" y="506" width="1" height="1" fill="#000" />
<rect x="465" y="510" width="5" height="4" fill="#fff" />
<rect x="459" y="512" width="6" height="1" fill="#fff" />
<rect x="471" y="509" width="1" height="2" fill="#000" />
<rect x="471" y="512" width="1" height="1" fill="#000" />
<rect x="465" y="516" width="5" height="4" fill="#fff" />
<rect x="459" y="518" width="4" height="1" fill="#fff" />
<rect x="471" y="515" width="1" height="2" fill="#000" />
<rect x="471" y="518" width="1" height="1" fill="#000" />
<rect x="465" y="522" width="5" height="4" fill="#fff" />
<rect x="459" y="524" width="4" height="1" fill="#fff" />
<rect x="471" y="521" width="1" height="2" fill="#000" />
<rect x="471" y="524" width="1" height="1" fill="#000" />
<rect x="465" y="528" width="5" height="4" fill="#fff" />
<rect x="459" y="530" width="4" height="1" fill="#fff" />
<rect x="471" y="527" width="1" height="2" fill="#000" />
<rect x="471" y="530" width="1" height="1" fill="#000" />
<rect x="465" y="534" width="5" height="4" fill="#fff" />
<rect x="459" y="536" width="4" height="1" fill="#fff" />
<rect x="471" y="533" width="1" height="2" fill="#000" />
<rect x="471" y="536" width="1" height="1" fill="#000" />
<rect x="465" y="540" width="5" height="4" fill="#fff" />
<rect x="459" y="542" width="4" height="1" fill="#fff" />
<rect x="471" y="539" width="1" height="2" fill="#000" />
<rect x="471" y="542" width="1" height="1" fill="#000" />
<rect x="465" y="546" width="5" height="4" fill="#fff" />
<rect x="459" y="547" width="4" height="2" fill="#fff" />
<rect x="471" y="545" width="1" height="2" fill="#000" />
<rect x="471" y="548" width="1" height="1" fill="#000" />
<rect x="465" y="551" width="5" height="4" fill="#fff" />
<rect x="459" y="552" width="4" height="2" fill="#fff" />
<rect x="471" y="550" width="1" height="2" fill="#000" />
<rect x="471" y="553" width="1" height="1" fill="#000" />
<rect x="465" y="557" width="5" height="4" fill="#fff" />
<rect x="459" y="559" width="6" height="1" fill="#fff" />
<rect x="471" y="556" width="1" height="2" fill="#000" />
<rect x="471" y="559" width="1" height="1" fill="#000" />
<rect x="465" y="563" width="5" height="4" fill="#fff" />
<rect x="459" y="564" width="4" height="2" fill="#fff" />
<rect x="471" y="562" width="1" height="2" fill="#000" />
<rect x="471" y="565" width="1" height="1" fill="#000" />
<rect x="465" y="569" width="5" height="4" fill="#fff" />
<rect x="459" y="570" width="4" height="2" fill="#fff" />
<rect x="471" y="568" width="1" height="2" fill="#000" />
<rect x="471" y="571" width="1" height="1" fill="#000" />
<rect x="483" y="376" width="1" height="7" fill="#000" />
<rect x="490" y="376" width="1" height="7" fill="#000" />
<rect x="482" y="593" width="1" height="7" fill="#000" />
<rect x="489" y="593" width="1" height="7" fill="#000" />
<rect x="476" y="383" width="17" height="4" fill="#000" />
<rect x="476" y="590" width="17" height="3" fill="#000" />
<polyline points="490.5,387 490.5,396.5 481.5,396.5 481.5,393.5 476,393.5" fill="none" stroke="#000" stroke-width="1" />
<polyline points="481.5,387 481.5,389.5 483.5,389.5 483.5,393.5 481,393.5" fill="none" stroke="#000" stroke-width="1" />
<polyline points="490.5,590 490.5,580.5 481.5,580.5 481.5,582.5 476,582.5" fill="none" stroke="#000" stroke-width="1" />
<polyline points="480.5,590 480.5,587.5 483.5,587.5 483.5,582.5 481,582.5" fill="none" stroke="#000" stroke-width="1" />
<rect x="478" y="401" width="13" height="175" fill="#000" />
<rect x="485" y="404" width="5" height="4" fill="#fff" />
<rect x="479" y="405" width="4" height="2" fill="#fff" />
<rect x="491" y="403" width="1" height="2" fill="#000" />
<rect x="491" y="406" width="1" height="1" fill="#000" />
<rect x="485" y="410" width="5" height="4" fill="#fff" />
<rect x="479" y="411" width="4" height="2" fill="#fff" />
<rect x="491" y="409" width="1" height="2" fill="#000" />
<rect x="491" y="412" width="1" height="1" fill="#000" />
<rect x="485" y="416" width="5" height="4" fill="#fff" />
<rect x="479" y="418" width="4" height="1" fill="#fff" />
<rect x="491" y="415" width="1" height="2" fill="#000" />
<rect x="491" y="418" width="1" height="1" fill="#000" />
<rect x="485" y="422" width="5" height="4" fill="#fff" />
<rect x="479" y="424" width="6" height="1" fill="#fff" />
<rect x="491" y="421" width="1" height="2" fill="#000" />
<rect x="491" y="424" width="1" height="1" fill="#000" />
<rect x="485" y="428" width="5" height="4" fill="#fff" />
<rect x="479" y="430" width="6" height="1" fill="#fff" />
<rect x="491" y="427" width="1" height="2" fill="#000" />
<rect x="491" y="430" width="1" height="1" fill="#000" />
<rect x="485" y="433" width="5" height="4" fill="#fff" />
<rect x="479" y="435" width="4" height="1" fill="#fff" />
<rect x="491" y="432" width="1" height="2" fill="#000" />
<rect x="491" y="435" width="1" height="1" fill="#000" />
<rect x="485" y="439" width="5" height="4" fill="#fff" />
<rect x="479" y="440" width="4" height="2" fill="#fff" />
<rect x="491" y="438" width="1" height="2" fill="#000" />
<rect x="491" y="441" width="1" height="1" fill="#000" />
<rect x="485" y="445" width="5" height="4" fill="#fff" />
<rect x="479" y="447" width="4" height="1" fill="#fff" />
<rect x="491" y="444" width="1" height="2" fill="#000" />
<rect x="491" y="447" width="1" height="1" fill="#000" />
<rect x="485" y="451" width="5" height="4" fill="#fff" />
<rect x="479" y="453" width="4" height="1" fill="#fff" />
<rect x="491" y="450" width="1" height="2" fill="#000" />
<rect x="491" y="453" width="1" height="1" fill="#000" />
<rect x="485" y="457" width="5" height="4" fill="#fff" />
<rect x="479" y="459" width="4" height="1" fill="#fff" />
<rect x="491" y="456" width="1" height="2" fill="#000" />
<rect x="491" y="459" width="1" height="1" fill="#000" />
<rect x="485" y="463" width="5" height="4" fill="#fff" />
<rect x="479" y="465" width="4" height="1" fill="#fff" />
<rect x="491" y="462" width="1" height="2" fill="#000" />
<rect x="491" y="465" width="1" height="1" fill="#000" />
<rect x="485" y="469" width="5" height="4" fill="#fff" />
<rect x="479" y="471" width="6" height="1" fill="#fff" />
<rect x="491" y="468" width="1" height="2" fill="#000" />
<rect x="491" y="471" width="1" height="1" fill="#000" />
<rect x="485" y="475" width="5" height="4" fill="#fff" />
<rect x="479" y="477" width="4" height="1" fill="#fff" />
<rect x="491" y="474" width="1" height="2" fill="#000" />
<rect x="491" y="477" width="1" height="1" fill="#000" />
<rect x="485" y="498" width="5" height="4" fill="#fff" />
<rect x="479" y="500" width="4" height="1" fill="#fff" />
<rect x="491" y="497" width="1" height="2" fill="#000" />
<rect x="491" y="500" width="1" height="1" fill="#000" />
<rect x="485" y="504" width="5" height="4" fill="#fff" />
<rect x="479" y="506" width="6" height="1" fill="#fff" />
<rect x="491" y="503" width="1" height="2" fill="#000" />
<rect x="491" y="506" width="1" height="1" fill="#000" />
<rect x="485" y="510" width="5" height="4" fill="#fff" />
<rect x="479" y="512" width="6" height="1" fill="#fff" />
<rect x="491" y="509" width="1" height="2" fill="#000" />
<rect x="491" y="512" width="1" height="1" fill="#000" />
<rect x="485" y="516" width="5" height="4" fill="#fff" />
<rect x="479" y="518" width="4" height="1" fill="#fff" />
<rect x="491" y="515" width="1" height="2" fill="#000" />
<rect x="491" y="518" width="1" height="1" fill="#000" />
<rect x="485" y="522" width="5" height="4" fill="#fff" />
<rect x="479" y="524" width="4" height="1" fill="#fff" />
<rect x="491" y="521" width="1" height="2" fill="#000" />
<rect x="491" y="524" width="1" height="1" fill="#000" />
<rect x="485" y="528" width="5" height="4" fill="#fff" />
<rect x="479" y="530" width="4" height="1" fill="#fff" />
<rect x="491" y="527" width="1" height="2" fill="#000" />
<rect x="491" y="530" width="1" height="1" fill="#000" />
<rect x="485" y="534" width="5" height="4" fill="#fff" />
<rect x="479" y="536" width="4" height="1" fill="#fff" />
<rect x="491" y="533" width="1" height="2" fill="#000" />
<rect x="491" y="536" width="1" height="1" fill="#000" />
<rect x="485" y="540" width="5" height="4" fill="#fff" />
<rect x="479" y="542" width="4" height="1" fill="#fff" />
<rect x="491" y="539" width="1" height="2" fill="#000" />
<rect x="491" y="542" width="1" height="1" fill="#000" />
<rect x="485" y="546" width="5" height="4" fill="#fff" />
<rect x="479" y="547" width="4" height="2" fill="#fff" />
<rect x="491" y="545" width="1" height="2" fill="#000" />
<rect x="491" y="548" width="1" height="1" fill="#000" />
<rect x="485" y="551" width="5" height="4" fill="#fff" />
<rect x="479" y="552" width="4" height="2" fill="#fff" />
<rect x="491" y="550" width="1" height="2" fill="#000" />
<rect x="491" y="553" width="1" height="1" fill="#000" />
<rect x="485" y="557" width="5" height="4" fill="#fff" />
<rect x="479" y="559" width="6" height="1" fill="#fff" />
<rect x="491" y="556" width="1" height="2" fill="#000" />
<rect x="491" y="559" width="1" height="1" fill="#000" />
<rect x="485" y="563" width="5" height="4" fill="#fff" />
<rect x="479" y="564" width="4" height="2" fill="#fff" />
<rect x="491" y="562" width="1" height="2" fill="#000" />
<rect x="491" y="565" width="1" height="1" fill="#000" />
<rect x="485" y="569" width="5" height="4" fill="#fff" />
<rect x="479" y="570" width="4" height="2" fill="#fff" />
<rect x="491" y="568" width="1" height="2" fill="#000" />
<rect x="491" y="571" width="1" height="1" fill="#000" />
<rect x="420" y="478" width="72" height="19" fill="#000" />
<rect x="421" y="481" width="4" height="2" fill="#fff" />
<rect x="421" y="487" width="4" height="2" fill="#fff" />
<rect x="421" y="493" width="4" height="2" fill="#fff" />
<rect x="486" y="480" width="4" height="4" fill="#fff" />
<rect x="486" y="486" width="4" height="4" fill="#fff" />
<rect x="486" y="492" width="4" height="4" fill="#fff" />
<rect x="428" y="481" width="56" height="14" fill="#fff" />
</g>
<g transform="translate(432.5,492) scale(0.72,1)"><text x="0" y="0" font-size="13.81" textLength="63.89" lengthAdjust="spacing" fill="#000" font-weight="normal">BANK 3</text></g>
<g shape-rendering="crispEdges">
<rect x="500" y="375" width="77" height="1" fill="#000" />
<rect x="500" y="600" width="77" height="1" fill="#000" />
<rect x="500" y="375" width="1" height="226" fill="#000" />
<rect x="576" y="375" width="1" height="226" fill="#000" />
<rect x="519" y="375" width="2" height="226" fill="#000" />
<rect x="508" y="376" width="1" height="7" fill="#000" />
<rect x="515" y="376" width="1" height="7" fill="#000" />
<rect x="507" y="593" width="1" height="7" fill="#000" />
<rect x="514" y="593" width="1" height="7" fill="#000" />
<rect x="501" y="383" width="17" height="4" fill="#000" />
<rect x="501" y="590" width="17" height="3" fill="#000" />
<polyline points="515.5,387 515.5,396.5 506.5,396.5 506.5,393.5 501,393.5" fill="none" stroke="#000" stroke-width="1" />
<polyline points="506.5,387 506.5,389.5 508.5,389.5 508.5,393.5 506,393.5" fill="none" stroke="#000" stroke-width="1" />
<polyline points="515.5,590 515.5,580.5 506.5,580.5 506.5,582.5 501,582.5" fill="none" stroke="#000" stroke-width="1" />
<polyline points="505.5,590 505.5,587.5 508.5,587.5 508.5,582.5 506,582.5" fill="none" stroke="#000" stroke-width="1" />
<rect x="503" y="401" width="13" height="175" fill="#000" />
<rect x="510" y="404" width="5" height="4" fill="#fff" />
<rect x="504" y="405" width="4" height="2" fill="#fff" />
<rect x="516" y="403" width="1" height="2" fill="#000" />
<rect x="516" y="406" width="1" height="1" fill="#000" />
<rect x="510" y="410" width="5" height="4" fill="#fff" />
<rect x="504" y="411" width="4" height="2" fill="#fff" />
<rect x="516" y="409" width="1" height="2" fill="#000" />
<rect x="516" y="412" width="1" height="1" fill="#000" />
<rect x="510" y="416" width="5" height="4" fill="#fff" />
<rect x="504" y="418" width="4" height="1" fill="#fff" />
<rect x="516" y="415" width="1" height="2" fill="#000" />
<rect x="516" y="418" width="1" height="1" fill="#000" />
<rect x="510" y="422" width="5" height="4" fill="#fff" />
<rect x="504" y="424" width="6" height="1" fill="#fff" />
<rect x="516" y="421" width="1" height="2" fill="#000" />
<rect x="516" y="424" width="1" height="1" fill="#000" />
<rect x="510" y="428" width="5" height="4" fill="#fff" />
<rect x="504" y="430" width="6" height="1" fill="#fff" />
<rect x="516" y="427" width="1" height="2" fill="#000" />
<rect x="516" y="430" width="1" height="1" fill="#000" />
<rect x="510" y="433" width="5" height="4" fill="#fff" />
<rect x="504" y="435" width="4" height="1" fill="#fff" />
<rect x="516" y="432" width="1" height="2" fill="#000" />
<rect x="516" y="435" width="1" height="1" fill="#000" />
<rect x="510" y="439" width="5" height="4" fill="#fff" />
<rect x="504" y="440" width="4" height="2" fill="#fff" />
<rect x="516" y="438" width="1" height="2" fill="#000" />
<rect x="516" y="441" width="1" height="1" fill="#000" />
<rect x="510" y="445" width="5" height="4" fill="#fff" />
<rect x="504" y="447" width="4" height="1" fill="#fff" />
<rect x="516" y="444" width="1" height="2" fill="#000" />
<rect x="516" y="447" width="1" height="1" fill="#000" />
<rect x="510" y="451" width="5" height="4" fill="#fff" />
<rect x="504" y="453" width="4" height="1" fill="#fff" />
<rect x="516" y="450" width="1" height="2" fill="#000" />
<rect x="516" y="453" width="1" height="1" fill="#000" />
<rect x="510" y="457" width="5" height="4" fill="#fff" />
<rect x="504" y="459" width="4" height="1" fill="#fff" />
<rect x="516" y="456" width="1" height="2" fill="#000" />
<rect x="516" y="459" width="1" height="1" fill="#000" />
<rect x="510" y="463" width="5" height="4" fill="#fff" />
<rect x="504" y="465" width="4" height="1" fill="#fff" />
<rect x="516" y="462" width="1" height="2" fill="#000" />
<rect x="516" y="465" width="1" height="1" fill="#000" />
<rect x="510" y="469" width="5" height="4" fill="#fff" />
<rect x="504" y="471" width="6" height="1" fill="#fff" />
<rect x="516" y="468" width="1" height="2" fill="#000" />
<rect x="516" y="471" width="1" height="1" fill="#000" />
<rect x="510" y="475" width="5" height="4" fill="#fff" />
<rect x="504" y="477" width="4" height="1" fill="#fff" />
<rect x="516" y="474" width="1" height="2" fill="#000" />
<rect x="516" y="477" width="1" height="1" fill="#000" />
<rect x="510" y="498" width="5" height="4" fill="#fff" />
<rect x="504" y="500" width="4" height="1" fill="#fff" />
<rect x="516" y="497" width="1" height="2" fill="#000" />
<rect x="516" y="500" width="1" height="1" fill="#000" />
<rect x="510" y="504" width="5" height="4" fill="#fff" />
<rect x="504" y="506" width="6" height="1" fill="#fff" />
<rect x="516" y="503" width="1" height="2" fill="#000" />
<rect x="516" y="506" width="1" height="1" fill="#000" />
<rect x="510" y="510" width="5" height="4" fill="#fff" />
<rect x="504" y="512" width="6" height="1" fill="#fff" />
<rect x="516" y="509" width="1" height="2" fill="#000" />
<rect x="516" y="512" width="1" height="1" fill="#000" />
<rect x="510" y="516" width="5" height="4" fill="#fff" />
<rect x="504" y="518" width="4" height="1" fill="#fff" />
<rect x="516" y="515" width="1" height="2" fill="#000" />
<rect x="516" y="518" width="1" height="1" fill="#000" />
<rect x="510" y="522" width="5" height="4" fill="#fff" />
<rect x="504" y="524" width="4" height="1" fill="#fff" />
<rect x="516" y="521" width="1" height="2" fill="#000" />
<rect x="516" y="524" width="1" height="1" fill="#000" />
<rect x="510" y="528" width="5" height="4" fill="#fff" />
<rect x="504" y="530" width="4" height="1" fill="#fff" />
<rect x="516" y="527" width="1" height="2" fill="#000" />
<rect x="516" y="530" width="1" height="1" fill="#000" />
<rect x="510" y="534" width="5" height="4" fill="#fff" />
<rect x="504" y="536" width="4" height="1" fill="#fff" />
<rect x="516" y="533" width="1" height="2" fill="#000" />
<rect x="516" y="536" width="1" height="1" fill="#000" />
<rect x="510" y="540" width="5" height="4" fill="#fff" />
<rect x="504" y="542" width="4" height="1" fill="#fff" />
<rect x="516" y="539" width="1" height="2" fill="#000" />
<rect x="516" y="542" width="1" height="1" fill="#000" />
<rect x="510" y="546" width="5" height="4" fill="#fff" />
<rect x="504" y="547" width="4" height="2" fill="#fff" />
<rect x="516" y="545" width="1" height="2" fill="#000" />
<rect x="516" y="548" width="1" height="1" fill="#000" />
<rect x="510" y="551" width="5" height="4" fill="#fff" />
<rect x="504" y="552" width="4" height="2" fill="#fff" />
<rect x="516" y="550" width="1" height="2" fill="#000" />
<rect x="516" y="553" width="1" height="1" fill="#000" />
<rect x="510" y="557" width="5" height="4" fill="#fff" />
<rect x="504" y="559" width="6" height="1" fill="#fff" />
<rect x="516" y="556" width="1" height="2" fill="#000" />
<rect x="516" y="559" width="1" height="1" fill="#000" />
<rect x="510" y="563" width="5" height="4" fill="#fff" />
<rect x="504" y="564" width="4" height="2" fill="#fff" />
<rect x="516" y="562" width="1" height="2" fill="#000" />
<rect x="516" y="565" width="1" height="1" fill="#000" />
<rect x="510" y="569" width="5" height="4" fill="#fff" />
<rect x="504" y="570" width="4" height="2" fill="#fff" />
<rect x="516" y="568" width="1" height="2" fill="#000" />
<rect x="516" y="571" width="1" height="1" fill="#000" />
<rect x="538" y="375" width="2" height="226" fill="#000" />
<rect x="527" y="376" width="1" height="7" fill="#000" />
<rect x="534" y="376" width="1" height="7" fill="#000" />
<rect x="526" y="593" width="1" height="7" fill="#000" />
<rect x="533" y="593" width="1" height="7" fill="#000" />
<rect x="520" y="383" width="17" height="4" fill="#000" />
<rect x="520" y="590" width="17" height="3" fill="#000" />
<polyline points="534.5,387 534.5,396.5 525.5,396.5 525.5,393.5 520,393.5" fill="none" stroke="#000" stroke-width="1" />
<polyline points="525.5,387 525.5,389.5 527.5,389.5 527.5,393.5 525,393.5" fill="none" stroke="#000" stroke-width="1" />
<polyline points="534.5,590 534.5,580.5 525.5,580.5 525.5,582.5 520,582.5" fill="none" stroke="#000" stroke-width="1" />
<polyline points="524.5,590 524.5,587.5 527.5,587.5 527.5,582.5 525,582.5" fill="none" stroke="#000" stroke-width="1" />
<rect x="522" y="401" width="13" height="175" fill="#000" />
<rect x="529" y="404" width="5" height="4" fill="#fff" />
<rect x="523" y="405" width="4" height="2" fill="#fff" />
<rect x="535" y="403" width="1" height="2" fill="#000" />
<rect x="535" y="406" width="1" height="1" fill="#000" />
<rect x="529" y="410" width="5" height="4" fill="#fff" />
<rect x="523" y="411" width="4" height="2" fill="#fff" />
<rect x="535" y="409" width="1" height="2" fill="#000" />
<rect x="535" y="412" width="1" height="1" fill="#000" />
<rect x="529" y="416" width="5" height="4" fill="#fff" />
<rect x="523" y="418" width="4" height="1" fill="#fff" />
<rect x="535" y="415" width="1" height="2" fill="#000" />
<rect x="535" y="418" width="1" height="1" fill="#000" />
<rect x="529" y="422" width="5" height="4" fill="#fff" />
<rect x="523" y="424" width="6" height="1" fill="#fff" />
<rect x="535" y="421" width="1" height="2" fill="#000" />
<rect x="535" y="424" width="1" height="1" fill="#000" />
<rect x="529" y="428" width="5" height="4" fill="#fff" />
<rect x="523" y="430" width="6" height="1" fill="#fff" />
<rect x="535" y="427" width="1" height="2" fill="#000" />
<rect x="535" y="430" width="1" height="1" fill="#000" />
<rect x="529" y="433" width="5" height="4" fill="#fff" />
<rect x="523" y="435" width="4" height="1" fill="#fff" />
<rect x="535" y="432" width="1" height="2" fill="#000" />
<rect x="535" y="435" width="1" height="1" fill="#000" />
<rect x="529" y="439" width="5" height="4" fill="#fff" />
<rect x="523" y="440" width="4" height="2" fill="#fff" />
<rect x="535" y="438" width="1" height="2" fill="#000" />
<rect x="535" y="441" width="1" height="1" fill="#000" />
<rect x="529" y="445" width="5" height="4" fill="#fff" />
<rect x="523" y="447" width="4" height="1" fill="#fff" />
<rect x="535" y="444" width="1" height="2" fill="#000" />
<rect x="535" y="447" width="1" height="1" fill="#000" />
<rect x="529" y="451" width="5" height="4" fill="#fff" />
<rect x="523" y="453" width="4" height="1" fill="#fff" />
<rect x="535" y="450" width="1" height="2" fill="#000" />
<rect x="535" y="453" width="1" height="1" fill="#000" />
<rect x="529" y="457" width="5" height="4" fill="#fff" />
<rect x="523" y="459" width="4" height="1" fill="#fff" />
<rect x="535" y="456" width="1" height="2" fill="#000" />
<rect x="535" y="459" width="1" height="1" fill="#000" />
<rect x="529" y="463" width="5" height="4" fill="#fff" />
<rect x="523" y="465" width="4" height="1" fill="#fff" />
<rect x="535" y="462" width="1" height="2" fill="#000" />
<rect x="535" y="465" width="1" height="1" fill="#000" />
<rect x="529" y="469" width="5" height="4" fill="#fff" />
<rect x="523" y="471" width="6" height="1" fill="#fff" />
<rect x="535" y="468" width="1" height="2" fill="#000" />
<rect x="535" y="471" width="1" height="1" fill="#000" />
<rect x="529" y="475" width="5" height="4" fill="#fff" />
<rect x="523" y="477" width="4" height="1" fill="#fff" />
<rect x="535" y="474" width="1" height="2" fill="#000" />
<rect x="535" y="477" width="1" height="1" fill="#000" />
<rect x="529" y="498" width="5" height="4" fill="#fff" />
<rect x="523" y="500" width="4" height="1" fill="#fff" />
<rect x="535" y="497" width="1" height="2" fill="#000" />
<rect x="535" y="500" width="1" height="1" fill="#000" />
<rect x="529" y="504" width="5" height="4" fill="#fff" />
<rect x="523" y="506" width="6" height="1" fill="#fff" />
<rect x="535" y="503" width="1" height="2" fill="#000" />
<rect x="535" y="506" width="1" height="1" fill="#000" />
<rect x="529" y="510" width="5" height="4" fill="#fff" />
<rect x="523" y="512" width="6" height="1" fill="#fff" />
<rect x="535" y="509" width="1" height="2" fill="#000" />
<rect x="535" y="512" width="1" height="1" fill="#000" />
<rect x="529" y="516" width="5" height="4" fill="#fff" />
<rect x="523" y="518" width="4" height="1" fill="#fff" />
<rect x="535" y="515" width="1" height="2" fill="#000" />
<rect x="535" y="518" width="1" height="1" fill="#000" />
<rect x="529" y="522" width="5" height="4" fill="#fff" />
<rect x="523" y="524" width="4" height="1" fill="#fff" />
<rect x="535" y="521" width="1" height="2" fill="#000" />
<rect x="535" y="524" width="1" height="1" fill="#000" />
<rect x="529" y="528" width="5" height="4" fill="#fff" />
<rect x="523" y="530" width="4" height="1" fill="#fff" />
<rect x="535" y="527" width="1" height="2" fill="#000" />
<rect x="535" y="530" width="1" height="1" fill="#000" />
<rect x="529" y="534" width="5" height="4" fill="#fff" />
<rect x="523" y="536" width="4" height="1" fill="#fff" />
<rect x="535" y="533" width="1" height="2" fill="#000" />
<rect x="535" y="536" width="1" height="1" fill="#000" />
<rect x="529" y="540" width="5" height="4" fill="#fff" />
<rect x="523" y="542" width="4" height="1" fill="#fff" />
<rect x="535" y="539" width="1" height="2" fill="#000" />
<rect x="535" y="542" width="1" height="1" fill="#000" />
<rect x="529" y="546" width="5" height="4" fill="#fff" />
<rect x="523" y="547" width="4" height="2" fill="#fff" />
<rect x="535" y="545" width="1" height="2" fill="#000" />
<rect x="535" y="548" width="1" height="1" fill="#000" />
<rect x="529" y="551" width="5" height="4" fill="#fff" />
<rect x="523" y="552" width="4" height="2" fill="#fff" />
<rect x="535" y="550" width="1" height="2" fill="#000" />
<rect x="535" y="553" width="1" height="1" fill="#000" />
<rect x="529" y="557" width="5" height="4" fill="#fff" />
<rect x="523" y="559" width="6" height="1" fill="#fff" />
<rect x="535" y="556" width="1" height="2" fill="#000" />
<rect x="535" y="559" width="1" height="1" fill="#000" />
<rect x="529" y="563" width="5" height="4" fill="#fff" />
<rect x="523" y="564" width="4" height="2" fill="#fff" />
<rect x="535" y="562" width="1" height="2" fill="#000" />
<rect x="535" y="565" width="1" height="1" fill="#000" />
<rect x="529" y="569" width="5" height="4" fill="#fff" />
<rect x="523" y="570" width="4" height="2" fill="#fff" />
<rect x="535" y="568" width="1" height="2" fill="#000" />
<rect x="535" y="571" width="1" height="1" fill="#000" />
<rect x="557" y="375" width="2" height="226" fill="#000" />
<rect x="546" y="376" width="1" height="7" fill="#000" />
<rect x="553" y="376" width="1" height="7" fill="#000" />
<rect x="545" y="593" width="1" height="7" fill="#000" />
<rect x="552" y="593" width="1" height="7" fill="#000" />
<rect x="539" y="383" width="17" height="4" fill="#000" />
<rect x="539" y="590" width="17" height="3" fill="#000" />
<polyline points="553.5,387 553.5,396.5 544.5,396.5 544.5,393.5 539,393.5" fill="none" stroke="#000" stroke-width="1" />
<polyline points="544.5,387 544.5,389.5 546.5,389.5 546.5,393.5 544,393.5" fill="none" stroke="#000" stroke-width="1" />
<polyline points="553.5,590 553.5,580.5 544.5,580.5 544.5,582.5 539,582.5" fill="none" stroke="#000" stroke-width="1" />
<polyline points="543.5,590 543.5,587.5 546.5,587.5 546.5,582.5 544,582.5" fill="none" stroke="#000" stroke-width="1" />
<rect x="541" y="401" width="13" height="175" fill="#000" />
<rect x="548" y="404" width="5" height="4" fill="#fff" />
<rect x="542" y="405" width="4" height="2" fill="#fff" />
<rect x="554" y="403" width="1" height="2" fill="#000" />
<rect x="554" y="406" width="1" height="1" fill="#000" />
<rect x="548" y="410" width="5" height="4" fill="#fff" />
<rect x="542" y="411" width="4" height="2" fill="#fff" />
<rect x="554" y="409" width="1" height="2" fill="#000" />
<rect x="554" y="412" width="1" height="1" fill="#000" />
<rect x="548" y="416" width="5" height="4" fill="#fff" />
<rect x="542" y="418" width="4" height="1" fill="#fff" />
<rect x="554" y="415" width="1" height="2" fill="#000" />
<rect x="554" y="418" width="1" height="1" fill="#000" />
<rect x="548" y="422" width="5" height="4" fill="#fff" />
<rect x="542" y="424" width="6" height="1" fill="#fff" />
<rect x="554" y="421" width="1" height="2" fill="#000" />
<rect x="554" y="424" width="1" height="1" fill="#000" />
<rect x="548" y="428" width="5" height="4" fill="#fff" />
<rect x="542" y="430" width="6" height="1" fill="#fff" />
<rect x="554" y="427" width="1" height="2" fill="#000" />
<rect x="554" y="430" width="1" height="1" fill="#000" />
<rect x="548" y="433" width="5" height="4" fill="#fff" />
<rect x="542" y="435" width="4" height="1" fill="#fff" />
<rect x="554" y="432" width="1" height="2" fill="#000" />
<rect x="554" y="435" width="1" height="1" fill="#000" />
<rect x="548" y="439" width="5" height="4" fill="#fff" />
<rect x="542" y="440" width="4" height="2" fill="#fff" />
<rect x="554" y="438" width="1" height="2" fill="#000" />
<rect x="554" y="441" width="1" height="1" fill="#000" />
<rect x="548" y="445" width="5" height="4" fill="#fff" />
<rect x="542" y="447" width="4" height="1" fill="#fff" />
<rect x="554" y="444" width="1" height="2" fill="#000" />
<rect x="554" y="447" width="1" height="1" fill="#000" />
<rect x="548" y="451" width="5" height="4" fill="#fff" />
<rect x="542" y="453" width="4" height="1" fill="#fff" />
<rect x="554" y="450" width="1" height="2" fill="#000" />
<rect x="554" y="453" width="1" height="1" fill="#000" />
<rect x="548" y="457" width="5" height="4" fill="#fff" />
<rect x="542" y="459" width="4" height="1" fill="#fff" />
<rect x="554" y="456" width="1" height="2" fill="#000" />
<rect x="554" y="459" width="1" height="1" fill="#000" />
<rect x="548" y="463" width="5" height="4" fill="#fff" />
<rect x="542" y="465" width="4" height="1" fill="#fff" />
<rect x="554" y="462" width="1" height="2" fill="#000" />
<rect x="554" y="465" width="1" height="1" fill="#000" />
<rect x="548" y="469" width="5" height="4" fill="#fff" />
<rect x="542" y="471" width="6" height="1" fill="#fff" />
<rect x="554" y="468" width="1" height="2" fill="#000" />
<rect x="554" y="471" width="1" height="1" fill="#000" />
<rect x="548" y="475" width="5" height="4" fill="#fff" />
<rect x="542" y="477" width="4" height="1" fill="#fff" />
<rect x="554" y="474" width="1" height="2" fill="#000" />
<rect x="554" y="477" width="1" height="1" fill="#000" />
<rect x="548" y="498" width="5" height="4" fill="#fff" />
<rect x="542" y="500" width="4" height="1" fill="#fff" />
<rect x="554" y="497" width="1" height="2" fill="#000" />
<rect x="554" y="500" width="1" height="1" fill="#000" />
<rect x="548" y="504" width="5" height="4" fill="#fff" />
<rect x="542" y="506" width="6" height="1" fill="#fff" />
<rect x="554" y="503" width="1" height="2" fill="#000" />
<rect x="554" y="506" width="1" height="1" fill="#000" />
<rect x="548" y="510" width="5" height="4" fill="#fff" />
<rect x="542" y="512" width="6" height="1" fill="#fff" />
<rect x="554" y="509" width="1" height="2" fill="#000" />
<rect x="554" y="512" width="1" height="1" fill="#000" />
<rect x="548" y="516" width="5" height="4" fill="#fff" />
<rect x="542" y="518" width="4" height="1" fill="#fff" />
<rect x="554" y="515" width="1" height="2" fill="#000" />
<rect x="554" y="518" width="1" height="1" fill="#000" />
<rect x="548" y="522" width="5" height="4" fill="#fff" />
<rect x="542" y="524" width="4" height="1" fill="#fff" />
<rect x="554" y="521" width="1" height="2" fill="#000" />
<rect x="554" y="524" width="1" height="1" fill="#000" />
<rect x="548" y="528" width="5" height="4" fill="#fff" />
<rect x="542" y="530" width="4" height="1" fill="#fff" />
<rect x="554" y="527" width="1" height="2" fill="#000" />
<rect x="554" y="530" width="1" height="1" fill="#000" />
<rect x="548" y="534" width="5" height="4" fill="#fff" />
<rect x="542" y="536" width="4" height="1" fill="#fff" />
<rect x="554" y="533" width="1" height="2" fill="#000" />
<rect x="554" y="536" width="1" height="1" fill="#000" />
<rect x="548" y="540" width="5" height="4" fill="#fff" />
<rect x="542" y="542" width="4" height="1" fill="#fff" />
<rect x="554" y="539" width="1" height="2" fill="#000" />
<rect x="554" y="542" width="1" height="1" fill="#000" />
<rect x="548" y="546" width="5" height="4" fill="#fff" />
<rect x="542" y="547" width="4" height="2" fill="#fff" />
<rect x="554" y="545" width="1" height="2" fill="#000" />
<rect x="554" y="548" width="1" height="1" fill="#000" />
<rect x="548" y="551" width="5" height="4" fill="#fff" />
<rect x="542" y="552" width="4" height="2" fill="#fff" />
<rect x="554" y="550" width="1" height="2" fill="#000" />
<rect x="554" y="553" width="1" height="1" fill="#000" />
<rect x="548" y="557" width="5" height="4" fill="#fff" />
<rect x="542" y="559" width="6" height="1" fill="#fff" />
<rect x="554" y="556" width="1" height="2" fill="#000" />
<rect x="554" y="559" width="1" height="1" fill="#000" />
<rect x="548" y="563" width="5" height="4" fill="#fff" />
<rect x="542" y="564" width="4" height="2" fill="#fff" />
<rect x="554" y="562" width="1" height="2" fill="#000" />
<rect x="554" y="565" width="1" height="1" fill="#000" />
<rect x="548" y="569" width="5" height="4" fill="#fff" />
<rect x="542" y="570" width="4" height="2" fill="#fff" />
<rect x="554" y="568" width="1" height="2" fill="#000" />
<rect x="554" y="571" width="1" height="1" fill="#000" />
<rect x="566" y="376" width="1" height="7" fill="#000" />
<rect x="573" y="376" width="1" height="7" fill="#000" />
<rect x="565" y="593" width="1" height="7" fill="#000" />
<rect x="572" y="593" width="1" height="7" fill="#000" />
<rect x="559" y="383" width="17" height="4" fill="#000" />
<rect x="559" y="590" width="17" height="3" fill="#000" />
<polyline points="573.5,387 573.5,396.5 564.5,396.5 564.5,393.5 559,393.5" fill="none" stroke="#000" stroke-width="1" />
<polyline points="564.5,387 564.5,389.5 566.5,389.5 566.5,393.5 564,393.5" fill="none" stroke="#000" stroke-width="1" />
<polyline points="573.5,590 573.5,580.5 564.5,580.5 564.5,582.5 559,582.5" fill="none" stroke="#000" stroke-width="1" />
<polyline points="563.5,590 563.5,587.5 566.5,587.5 566.5,582.5 564,582.5" fill="none" stroke="#000" stroke-width="1" />
<rect x="561" y="401" width="13" height="175" fill="#000" />
<rect x="568" y="404" width="5" height="4" fill="#fff" />
<rect x="562" y="405" width="4" height="2" fill="#fff" />
<rect x="574" y="403" width="1" height="2" fill="#000" />
<rect x="574" y="406" width="1" height="1" fill="#000" />
<rect x="568" y="410" width="5" height="4" fill="#fff" />
<rect x="562" y="411" width="4" height="2" fill="#fff" />
<rect x="574" y="409" width="1" height="2" fill="#000" />
<rect x="574" y="412" width="1" height="1" fill="#000" />
<rect x="568" y="416" width="5" height="4" fill="#fff" />
<rect x="562" y="418" width="4" height="1" fill="#fff" />
<rect x="574" y="415" width="1" height="2" fill="#000" />
<rect x="574" y="418" width="1" height="1" fill="#000" />
<rect x="568" y="422" width="5" height="4" fill="#fff" />
<rect x="562" y="424" width="6" height="1" fill="#fff" />
<rect x="574" y="421" width="1" height="2" fill="#000" />
<rect x="574" y="424" width="1" height="1" fill="#000" />
<rect x="568" y="428" width="5" height="4" fill="#fff" />
<rect x="562" y="430" width="6" height="1" fill="#fff" />
<rect x="574" y="427" width="1" height="2" fill="#000" />
<rect x="574" y="430" width="1" height="1" fill="#000" />
<rect x="568" y="433" width="5" height="4" fill="#fff" />
<rect x="562" y="435" width="4" height="1" fill="#fff" />
<rect x="574" y="432" width="1" height="2" fill="#000" />
<rect x="574" y="435" width="1" height="1" fill="#000" />
<rect x="568" y="439" width="5" height="4" fill="#fff" />
<rect x="562" y="440" width="4" height="2" fill="#fff" />
<rect x="574" y="438" width="1" height="2" fill="#000" />
<rect x="574" y="441" width="1" height="1" fill="#000" />
<rect x="568" y="445" width="5" height="4" fill="#fff" />
<rect x="562" y="447" width="4" height="1" fill="#fff" />
<rect x="574" y="444" width="1" height="2" fill="#000" />
<rect x="574" y="447" width="1" height="1" fill="#000" />
<rect x="568" y="451" width="5" height="4" fill="#fff" />
<rect x="562" y="453" width="4" height="1" fill="#fff" />
<rect x="574" y="450" width="1" height="2" fill="#000" />
<rect x="574" y="453" width="1" height="1" fill="#000" />
<rect x="568" y="457" width="5" height="4" fill="#fff" />
<rect x="562" y="459" width="4" height="1" fill="#fff" />
<rect x="574" y="456" width="1" height="2" fill="#000" />
<rect x="574" y="459" width="1" height="1" fill="#000" />
<rect x="568" y="463" width="5" height="4" fill="#fff" />
<rect x="562" y="465" width="4" height="1" fill="#fff" />
<rect x="574" y="462" width="1" height="2" fill="#000" />
<rect x="574" y="465" width="1" height="1" fill="#000" />
<rect x="568" y="469" width="5" height="4" fill="#fff" />
<rect x="562" y="471" width="6" height="1" fill="#fff" />
<rect x="574" y="468" width="1" height="2" fill="#000" />
<rect x="574" y="471" width="1" height="1" fill="#000" />
<rect x="568" y="475" width="5" height="4" fill="#fff" />
<rect x="562" y="477" width="4" height="1" fill="#fff" />
<rect x="574" y="474" width="1" height="2" fill="#000" />
<rect x="574" y="477" width="1" height="1" fill="#000" />
<rect x="568" y="498" width="5" height="4" fill="#fff" />
<rect x="562" y="500" width="4" height="1" fill="#fff" />
<rect x="574" y="497" width="1" height="2" fill="#000" />
<rect x="574" y="500" width="1" height="1" fill="#000" />
<rect x="568" y="504" width="5" height="4" fill="#fff" />
<rect x="562" y="506" width="6" height="1" fill="#fff" />
<rect x="574" y="503" width="1" height="2" fill="#000" />
<rect x="574" y="506" width="1" height="1" fill="#000" />
<rect x="568" y="510" width="5" height="4" fill="#fff" />
<rect x="562" y="512" width="6" height="1" fill="#fff" />
<rect x="574" y="509" width="1" height="2" fill="#000" />
<rect x="574" y="512" width="1" height="1" fill="#000" />
<rect x="568" y="516" width="5" height="4" fill="#fff" />
<rect x="562" y="518" width="4" height="1" fill="#fff" />
<rect x="574" y="515" width="1" height="2" fill="#000" />
<rect x="574" y="518" width="1" height="1" fill="#000" />
<rect x="568" y="522" width="5" height="4" fill="#fff" />
<rect x="562" y="524" width="4" height="1" fill="#fff" />
<rect x="574" y="521" width="1" height="2" fill="#000" />
<rect x="574" y="524" width="1" height="1" fill="#000" />
<rect x="568" y="528" width="5" height="4" fill="#fff" />
<rect x="562" y="530" width="4" height="1" fill="#fff" />
<rect x="574" y="527" width="1" height="2" fill="#000" />
<rect x="574" y="530" width="1" height="1" fill="#000" />
<rect x="568" y="534" width="5" height="4" fill="#fff" />
<rect x="562" y="536" width="4" height="1" fill="#fff" />
<rect x="574" y="533" width="1" height="2" fill="#000" />
<rect x="574" y="536" width="1" height="1" fill="#000" />
<rect x="568" y="540" width="5" height="4" fill="#fff" />
<rect x="562" y="542" width="4" height="1" fill="#fff" />
<rect x="574" y="539" width="1" height="2" fill="#000" />
<rect x="574" y="542" width="1" height="1" fill="#000" />
<rect x="568" y="546" width="5" height="4" fill="#fff" />
<rect x="562" y="547" width="4" height="2" fill="#fff" />
<rect x="574" y="545" width="1" height="2" fill="#000" />
<rect x="574" y="548" width="1" height="1" fill="#000" />
<rect x="568" y="551" width="5" height="4" fill="#fff" />
<rect x="562" y="552" width="4" height="2" fill="#fff" />
<rect x="574" y="550" width="1" height="2" fill="#000" />
<rect x="574" y="553" width="1" height="1" fill="#000" />
<rect x="568" y="557" width="5" height="4" fill="#fff" />
<rect x="562" y="559" width="6" height="1" fill="#fff" />
<rect x="574" y="556" width="1" height="2" fill="#000" />
<rect x="574" y="559" width="1" height="1" fill="#000" />
<rect x="568" y="563" width="5" height="4" fill="#fff" />
<rect x="562" y="564" width="4" height="2" fill="#fff" />
<rect x="574" y="562" width="1" height="2" fill="#000" />
<rect x="574" y="565" width="1" height="1" fill="#000" />
<rect x="568" y="569" width="5" height="4" fill="#fff" />
<rect x="562" y="570" width="4" height="2" fill="#fff" />
<rect x="574" y="568" width="1" height="2" fill="#000" />
<rect x="574" y="571" width="1" height="1" fill="#000" />
<rect x="502" y="478" width="72" height="19" fill="#000" />
<rect x="503" y="481" width="4" height="2" fill="#fff" />
<rect x="503" y="487" width="4" height="2" fill="#fff" />
<rect x="503" y="493" width="4" height="2" fill="#fff" />
<rect x="568" y="480" width="4" height="4" fill="#fff" />
<rect x="568" y="486" width="4" height="4" fill="#fff" />
<rect x="568" y="492" width="4" height="4" fill="#fff" />
<rect x="510" y="481" width="56" height="14" fill="#fff" />
</g>
<g transform="translate(514.5,492) scale(0.72,1)"><text x="0" y="0" font-size="13.81" textLength="63.89" lengthAdjust="spacing" fill="#000" font-weight="normal">BANK 2</text></g>
<g shape-rendering="crispEdges">
<rect x="583" y="375" width="77" height="1" fill="#000" />
<rect x="583" y="600" width="77" height="1" fill="#000" />
<rect x="583" y="375" width="1" height="226" fill="#000" />
<rect x="659" y="375" width="1" height="226" fill="#000" />
<rect x="602" y="375" width="2" height="226" fill="#000" />
<rect x="591" y="376" width="1" height="7" fill="#000" />
<rect x="598" y="376" width="1" height="7" fill="#000" />
<rect x="590" y="593" width="1" height="7" fill="#000" />
<rect x="597" y="593" width="1" height="7" fill="#000" />
<rect x="584" y="383" width="17" height="4" fill="#000" />
<rect x="584" y="590" width="17" height="3" fill="#000" />
<polyline points="598.5,387 598.5,396.5 589.5,396.5 589.5,393.5 584,393.5" fill="none" stroke="#000" stroke-width="1" />
<polyline points="589.5,387 589.5,389.5 591.5,389.5 591.5,393.5 589,393.5" fill="none" stroke="#000" stroke-width="1" />
<polyline points="598.5,590 598.5,580.5 589.5,580.5 589.5,582.5 584,582.5" fill="none" stroke="#000" stroke-width="1" />
<polyline points="588.5,590 588.5,587.5 591.5,587.5 591.5,582.5 589,582.5" fill="none" stroke="#000" stroke-width="1" />
<rect x="586" y="401" width="13" height="175" fill="#000" />
<rect x="593" y="404" width="5" height="4" fill="#fff" />
<rect x="587" y="405" width="4" height="2" fill="#fff" />
<rect x="599" y="403" width="1" height="2" fill="#000" />
<rect x="599" y="406" width="1" height="1" fill="#000" />
<rect x="593" y="410" width="5" height="4" fill="#fff" />
<rect x="587" y="411" width="4" height="2" fill="#fff" />
<rect x="599" y="409" width="1" height="2" fill="#000" />
<rect x="599" y="412" width="1" height="1" fill="#000" />
<rect x="593" y="416" width="5" height="4" fill="#fff" />
<rect x="587" y="418" width="4" height="1" fill="#fff" />
<rect x="599" y="415" width="1" height="2" fill="#000" />
<rect x="599" y="418" width="1" height="1" fill="#000" />
<rect x="593" y="422" width="5" height="4" fill="#fff" />
<rect x="587" y="424" width="6" height="1" fill="#fff" />
<rect x="599" y="421" width="1" height="2" fill="#000" />
<rect x="599" y="424" width="1" height="1" fill="#000" />
<rect x="593" y="428" width="5" height="4" fill="#fff" />
<rect x="587" y="430" width="6" height="1" fill="#fff" />
<rect x="599" y="427" width="1" height="2" fill="#000" />
<rect x="599" y="430" width="1" height="1" fill="#000" />
<rect x="593" y="433" width="5" height="4" fill="#fff" />
<rect x="587" y="435" width="4" height="1" fill="#fff" />
<rect x="599" y="432" width="1" height="2" fill="#000" />
<rect x="599" y="435" width="1" height="1" fill="#000" />
<rect x="593" y="439" width="5" height="4" fill="#fff" />
<rect x="587" y="440" width="4" height="2" fill="#fff" />
<rect x="599" y="438" width="1" height="2" fill="#000" />
<rect x="599" y="441" width="1" height="1" fill="#000" />
<rect x="593" y="445" width="5" height="4" fill="#fff" />
<rect x="587" y="447" width="4" height="1" fill="#fff" />
<rect x="599" y="444" width="1" height="2" fill="#000" />
<rect x="599" y="447" width="1" height="1" fill="#000" />
<rect x="593" y="451" width="5" height="4" fill="#fff" />
<rect x="587" y="453" width="4" height="1" fill="#fff" />
<rect x="599" y="450" width="1" height="2" fill="#000" />
<rect x="599" y="453" width="1" height="1" fill="#000" />
<rect x="593" y="457" width="5" height="4" fill="#fff" />
<rect x="587" y="459" width="4" height="1" fill="#fff" />
<rect x="599" y="456" width="1" height="2" fill="#000" />
<rect x="599" y="459" width="1" height="1" fill="#000" />
<rect x="593" y="463" width="5" height="4" fill="#fff" />
<rect x="587" y="465" width="4" height="1" fill="#fff" />
<rect x="599" y="462" width="1" height="2" fill="#000" />
<rect x="599" y="465" width="1" height="1" fill="#000" />
<rect x="593" y="469" width="5" height="4" fill="#fff" />
<rect x="587" y="471" width="6" height="1" fill="#fff" />
<rect x="599" y="468" width="1" height="2" fill="#000" />
<rect x="599" y="471" width="1" height="1" fill="#000" />
<rect x="593" y="475" width="5" height="4" fill="#fff" />
<rect x="587" y="477" width="4" height="1" fill="#fff" />
<rect x="599" y="474" width="1" height="2" fill="#000" />
<rect x="599" y="477" width="1" height="1" fill="#000" />
<rect x="593" y="498" width="5" height="4" fill="#fff" />
<rect x="587" y="500" width="4" height="1" fill="#fff" />
<rect x="599" y="497" width="1" height="2" fill="#000" />
<rect x="599" y="500" width="1" height="1" fill="#000" />
<rect x="593" y="504" width="5" height="4" fill="#fff" />
<rect x="587" y="506" width="6" height="1" fill="#fff" />
<rect x="599" y="503" width="1" height="2" fill="#000" />
<rect x="599" y="506" width="1" height="1" fill="#000" />
<rect x="593" y="510" width="5" height="4" fill="#fff" />
<rect x="587" y="512" width="6" height="1" fill="#fff" />
<rect x="599" y="509" width="1" height="2" fill="#000" />
<rect x="599" y="512" width="1" height="1" fill="#000" />
<rect x="593" y="516" width="5" height="4" fill="#fff" />
<rect x="587" y="518" width="4" height="1" fill="#fff" />
<rect x="599" y="515" width="1" height="2" fill="#000" />
<rect x="599" y="518" width="1" height="1" fill="#000" />
<rect x="593" y="522" width="5" height="4" fill="#fff" />
<rect x="587" y="524" width="4" height="1" fill="#fff" />
<rect x="599" y="521" width="1" height="2" fill="#000" />
<rect x="599" y="524" width="1" height="1" fill="#000" />
<rect x="593" y="528" width="5" height="4" fill="#fff" />
<rect x="587" y="530" width="4" height="1" fill="#fff" />
<rect x="599" y="527" width="1" height="2" fill="#000" />
<rect x="599" y="530" width="1" height="1" fill="#000" />
<rect x="593" y="534" width="5" height="4" fill="#fff" />
<rect x="587" y="536" width="4" height="1" fill="#fff" />
<rect x="599" y="533" width="1" height="2" fill="#000" />
<rect x="599" y="536" width="1" height="1" fill="#000" />
<rect x="593" y="540" width="5" height="4" fill="#fff" />
<rect x="587" y="542" width="4" height="1" fill="#fff" />
<rect x="599" y="539" width="1" height="2" fill="#000" />
<rect x="599" y="542" width="1" height="1" fill="#000" />
<rect x="593" y="546" width="5" height="4" fill="#fff" />
<rect x="587" y="547" width="4" height="2" fill="#fff" />
<rect x="599" y="545" width="1" height="2" fill="#000" />
<rect x="599" y="548" width="1" height="1" fill="#000" />
<rect x="593" y="551" width="5" height="4" fill="#fff" />
<rect x="587" y="552" width="4" height="2" fill="#fff" />
<rect x="599" y="550" width="1" height="2" fill="#000" />
<rect x="599" y="553" width="1" height="1" fill="#000" />
<rect x="593" y="557" width="5" height="4" fill="#fff" />
<rect x="587" y="559" width="6" height="1" fill="#fff" />
<rect x="599" y="556" width="1" height="2" fill="#000" />
<rect x="599" y="559" width="1" height="1" fill="#000" />
<rect x="593" y="563" width="5" height="4" fill="#fff" />
<rect x="587" y="564" width="4" height="2" fill="#fff" />
<rect x="599" y="562" width="1" height="2" fill="#000" />
<rect x="599" y="565" width="1" height="1" fill="#000" />
<rect x="593" y="569" width="5" height="4" fill="#fff" />
<rect x="587" y="570" width="4" height="2" fill="#fff" />
<rect x="599" y="568" width="1" height="2" fill="#000" />
<rect x="599" y="571" width="1" height="1" fill="#000" />
<rect x="621" y="375" width="2" height="226" fill="#000" />
<rect x="610" y="376" width="1" height="7" fill="#000" />
<rect x="617" y="376" width="1" height="7" fill="#000" />
<rect x="609" y="593" width="1" height="7" fill="#000" />
<rect x="616" y="593" width="1" height="7" fill="#000" />
<rect x="603" y="383" width="17" height="4" fill="#000" />
<rect x="603" y="590" width="17" height="3" fill="#000" />
<polyline points="617.5,387 617.5,396.5 608.5,396.5 608.5,393.5 603,393.5" fill="none" stroke="#000" stroke-width="1" />
<polyline points="608.5,387 608.5,389.5 610.5,389.5 610.5,393.5 608,393.5" fill="none" stroke="#000" stroke-width="1" />
<polyline points="617.5,590 617.5,580.5 608.5,580.5 608.5,582.5 603,582.5" fill="none" stroke="#000" stroke-width="1" />
<polyline points="607.5,590 607.5,587.5 610.5,587.5 610.5,582.5 608,582.5" fill="none" stroke="#000" stroke-width="1" />
<rect x="605" y="401" width="13" height="175" fill="#000" />
<rect x="612" y="404" width="5" height="4" fill="#fff" />
<rect x="606" y="405" width="4" height="2" fill="#fff" />
<rect x="618" y="403" width="1" height="2" fill="#000" />
<rect x="618" y="406" width="1" height="1" fill="#000" />
<rect x="612" y="410" width="5" height="4" fill="#fff" />
<rect x="606" y="411" width="4" height="2" fill="#fff" />
<rect x="618" y="409" width="1" height="2" fill="#000" />
<rect x="618" y="412" width="1" height="1" fill="#000" />
<rect x="612" y="416" width="5" height="4" fill="#fff" />
<rect x="606" y="418" width="4" height="1" fill="#fff" />
<rect x="618" y="415" width="1" height="2" fill="#000" />
<rect x="618" y="418" width="1" height="1" fill="#000" />
<rect x="612" y="422" width="5" height="4" fill="#fff" />
<rect x="606" y="424" width="6" height="1" fill="#fff" />
<rect x="618" y="421" width="1" height="2" fill="#000" />
<rect x="618" y="424" width="1" height="1" fill="#000" />
<rect x="612" y="428" width="5" height="4" fill="#fff" />
<rect x="606" y="430" width="6" height="1" fill="#fff" />
<rect x="618" y="427" width="1" height="2" fill="#000" />
<rect x="618" y="430" width="1" height="1" fill="#000" />
<rect x="612" y="433" width="5" height="4" fill="#fff" />
<rect x="606" y="435" width="4" height="1" fill="#fff" />
<rect x="618" y="432" width="1" height="2" fill="#000" />
<rect x="618" y="435" width="1" height="1" fill="#000" />
<rect x="612" y="439" width="5" height="4" fill="#fff" />
<rect x="606" y="440" width="4" height="2" fill="#fff" />
<rect x="618" y="438" width="1" height="2" fill="#000" />
<rect x="618" y="441" width="1" height="1" fill="#000" />
<rect x="612" y="445" width="5" height="4" fill="#fff" />
<rect x="606" y="447" width="4" height="1" fill="#fff" />
<rect x="618" y="444" width="1" height="2" fill="#000" />
<rect x="618" y="447" width="1" height="1" fill="#000" />
<rect x="612" y="451" width="5" height="4" fill="#fff" />
<rect x="606" y="453" width="4" height="1" fill="#fff" />
<rect x="618" y="450" width="1" height="2" fill="#000" />
<rect x="618" y="453" width="1" height="1" fill="#000" />
<rect x="612" y="457" width="5" height="4" fill="#fff" />
<rect x="606" y="459" width="4" height="1" fill="#fff" />
<rect x="618" y="456" width="1" height="2" fill="#000" />
<rect x="618" y="459" width="1" height="1" fill="#000" />
<rect x="612" y="463" width="5" height="4" fill="#fff" />
<rect x="606" y="465" width="4" height="1" fill="#fff" />
<rect x="618" y="462" width="1" height="2" fill="#000" />
<rect x="618" y="465" width="1" height="1" fill="#000" />
<rect x="612" y="469" width="5" height="4" fill="#fff" />
<rect x="606" y="471" width="6" height="1" fill="#fff" />
<rect x="618" y="468" width="1" height="2" fill="#000" />
<rect x="618" y="471" width="1" height="1" fill="#000" />
<rect x="612" y="475" width="5" height="4" fill="#fff" />
<rect x="606" y="477" width="4" height="1" fill="#fff" />
<rect x="618" y="474" width="1" height="2" fill="#000" />
<rect x="618" y="477" width="1" height="1" fill="#000" />
<rect x="612" y="498" width="5" height="4" fill="#fff" />
<rect x="606" y="500" width="4" height="1" fill="#fff" />
<rect x="618" y="497" width="1" height="2" fill="#000" />
<rect x="618" y="500" width="1" height="1" fill="#000" />
<rect x="612" y="504" width="5" height="4" fill="#fff" />
<rect x="606" y="506" width="6" height="1" fill="#fff" />
<rect x="618" y="503" width="1" height="2" fill="#000" />
<rect x="618" y="506" width="1" height="1" fill="#000" />
<rect x="612" y="510" width="5" height="4" fill="#fff" />
<rect x="606" y="512" width="6" height="1" fill="#fff" />
<rect x="618" y="509" width="1" height="2" fill="#000" />
<rect x="618" y="512" width="1" height="1" fill="#000" />
<rect x="612" y="516" width="5" height="4" fill="#fff" />
<rect x="606" y="518" width="4" height="1" fill="#fff" />
<rect x="618" y="515" width="1" height="2" fill="#000" />
<rect x="618" y="518" width="1" height="1" fill="#000" />
<rect x="612" y="522" width="5" height="4" fill="#fff" />
<rect x="606" y="524" width="4" height="1" fill="#fff" />
<rect x="618" y="521" width="1" height="2" fill="#000" />
<rect x="618" y="524" width="1" height="1" fill="#000" />
<rect x="612" y="528" width="5" height="4" fill="#fff" />
<rect x="606" y="530" width="4" height="1" fill="#fff" />
<rect x="618" y="527" width="1" height="2" fill="#000" />
<rect x="618" y="530" width="1" height="1" fill="#000" />
<rect x="612" y="534" width="5" height="4" fill="#fff" />
<rect x="606" y="536" width="4" height="1" fill="#fff" />
<rect x="618" y="533" width="1" height="2" fill="#000" />
<rect x="618" y="536" width="1" height="1" fill="#000" />
<rect x="612" y="540" width="5" height="4" fill="#fff" />
<rect x="606" y="542" width="4" height="1" fill="#fff" />
<rect x="618" y="539" width="1" height="2" fill="#000" />
<rect x="618" y="542" width="1" height="1" fill="#000" />
<rect x="612" y="546" width="5" height="4" fill="#fff" />
<rect x="606" y="547" width="4" height="2" fill="#fff" />
<rect x="618" y="545" width="1" height="2" fill="#000" />
<rect x="618" y="548" width="1" height="1" fill="#000" />
<rect x="612" y="551" width="5" height="4" fill="#fff" />
<rect x="606" y="552" width="4" height="2" fill="#fff" />
<rect x="618" y="550" width="1" height="2" fill="#000" />
<rect x="618" y="553" width="1" height="1" fill="#000" />
<rect x="612" y="557" width="5" height="4" fill="#fff" />
<rect x="606" y="559" width="6" height="1" fill="#fff" />
<rect x="618" y="556" width="1" height="2" fill="#000" />
<rect x="618" y="559" width="1" height="1" fill="#000" />
<rect x="612" y="563" width="5" height="4" fill="#fff" />
<rect x="606" y="564" width="4" height="2" fill="#fff" />
<rect x="618" y="562" width="1" height="2" fill="#000" />
<rect x="618" y="565" width="1" height="1" fill="#000" />
<rect x="612" y="569" width="5" height="4" fill="#fff" />
<rect x="606" y="570" width="4" height="2" fill="#fff" />
<rect x="618" y="568" width="1" height="2" fill="#000" />
<rect x="618" y="571" width="1" height="1" fill="#000" />
<rect x="640" y="375" width="2" height="226" fill="#000" />
<rect x="629" y="376" width="1" height="7" fill="#000" />
<rect x="636" y="376" width="1" height="7" fill="#000" />
<rect x="628" y="593" width="1" height="7" fill="#000" />
<rect x="635" y="593" width="1" height="7" fill="#000" />
<rect x="622" y="383" width="17" height="4" fill="#000" />
<rect x="622" y="590" width="17" height="3" fill="#000" />
<polyline points="636.5,387 636.5,396.5 627.5,396.5 627.5,393.5 622,393.5" fill="none" stroke="#000" stroke-width="1" />
<polyline points="627.5,387 627.5,389.5 629.5,389.5 629.5,393.5 627,393.5" fill="none" stroke="#000" stroke-width="1" />
<polyline points="636.5,590 636.5,580.5 627.5,580.5 627.5,582.5 622,582.5" fill="none" stroke="#000" stroke-width="1" />
<polyline points="626.5,590 626.5,587.5 629.5,587.5 629.5,582.5 627,582.5" fill="none" stroke="#000" stroke-width="1" />
<rect x="624" y="401" width="13" height="175" fill="#000" />
<rect x="631" y="404" width="5" height="4" fill="#fff" />
<rect x="625" y="405" width="4" height="2" fill="#fff" />
<rect x="637" y="403" width="1" height="2" fill="#000" />
<rect x="637" y="406" width="1" height="1" fill="#000" />
<rect x="631" y="410" width="5" height="4" fill="#fff" />
<rect x="625" y="411" width="4" height="2" fill="#fff" />
<rect x="637" y="409" width="1" height="2" fill="#000" />
<rect x="637" y="412" width="1" height="1" fill="#000" />
<rect x="631" y="416" width="5" height="4" fill="#fff" />
<rect x="625" y="418" width="4" height="1" fill="#fff" />
<rect x="637" y="415" width="1" height="2" fill="#000" />
<rect x="637" y="418" width="1" height="1" fill="#000" />
<rect x="631" y="422" width="5" height="4" fill="#fff" />
<rect x="625" y="424" width="6" height="1" fill="#fff" />
<rect x="637" y="421" width="1" height="2" fill="#000" />
<rect x="637" y="424" width="1" height="1" fill="#000" />
<rect x="631" y="428" width="5" height="4" fill="#fff" />
<rect x="625" y="430" width="6" height="1" fill="#fff" />
<rect x="637" y="427" width="1" height="2" fill="#000" />
<rect x="637" y="430" width="1" height="1" fill="#000" />
<rect x="631" y="433" width="5" height="4" fill="#fff" />
<rect x="625" y="435" width="4" height="1" fill="#fff" />
<rect x="637" y="432" width="1" height="2" fill="#000" />
<rect x="637" y="435" width="1" height="1" fill="#000" />
<rect x="631" y="439" width="5" height="4" fill="#fff" />
<rect x="625" y="440" width="4" height="2" fill="#fff" />
<rect x="637" y="438" width="1" height="2" fill="#000" />
<rect x="637" y="441" width="1" height="1" fill="#000" />
<rect x="631" y="445" width="5" height="4" fill="#fff" />
<rect x="625" y="447" width="4" height="1" fill="#fff" />
<rect x="637" y="444" width="1" height="2" fill="#000" />
<rect x="637" y="447" width="1" height="1" fill="#000" />
<rect x="631" y="451" width="5" height="4" fill="#fff" />
<rect x="625" y="453" width="4" height="1" fill="#fff" />
<rect x="637" y="450" width="1" height="2" fill="#000" />
<rect x="637" y="453" width="1" height="1" fill="#000" />
<rect x="631" y="457" width="5" height="4" fill="#fff" />
<rect x="625" y="459" width="4" height="1" fill="#fff" />
<rect x="637" y="456" width="1" height="2" fill="#000" />
<rect x="637" y="459" width="1" height="1" fill="#000" />
<rect x="631" y="463" width="5" height="4" fill="#fff" />
<rect x="625" y="465" width="4" height="1" fill="#fff" />
<rect x="637" y="462" width="1" height="2" fill="#000" />
<rect x="637" y="465" width="1" height="1" fill="#000" />
<rect x="631" y="469" width="5" height="4" fill="#fff" />
<rect x="625" y="471" width="6" height="1" fill="#fff" />
<rect x="637" y="468" width="1" height="2" fill="#000" />
<rect x="637" y="471" width="1" height="1" fill="#000" />
<rect x="631" y="475" width="5" height="4" fill="#fff" />
<rect x="625" y="477" width="4" height="1" fill="#fff" />
<rect x="637" y="474" width="1" height="2" fill="#000" />
<rect x="637" y="477" width="1" height="1" fill="#000" />
<rect x="631" y="498" width="5" height="4" fill="#fff" />
<rect x="625" y="500" width="4" height="1" fill="#fff" />
<rect x="637" y="497" width="1" height="2" fill="#000" />
<rect x="637" y="500" width="1" height="1" fill="#000" />
<rect x="631" y="504" width="5" height="4" fill="#fff" />
<rect x="625" y="506" width="6" height="1" fill="#fff" />
<rect x="637" y="503" width="1" height="2" fill="#000" />
<rect x="637" y="506" width="1" height="1" fill="#000" />
<rect x="631" y="510" width="5" height="4" fill="#fff" />
<rect x="625" y="512" width="6" height="1" fill="#fff" />
<rect x="637" y="509" width="1" height="2" fill="#000" />
<rect x="637" y="512" width="1" height="1" fill="#000" />
<rect x="631" y="516" width="5" height="4" fill="#fff" />
<rect x="625" y="518" width="4" height="1" fill="#fff" />
<rect x="637" y="515" width="1" height="2" fill="#000" />
<rect x="637" y="518" width="1" height="1" fill="#000" />
<rect x="631" y="522" width="5" height="4" fill="#fff" />
<rect x="625" y="524" width="4" height="1" fill="#fff" />
<rect x="637" y="521" width="1" height="2" fill="#000" />
<rect x="637" y="524" width="1" height="1" fill="#000" />
<rect x="631" y="528" width="5" height="4" fill="#fff" />
<rect x="625" y="530" width="4" height="1" fill="#fff" />
<rect x="637" y="527" width="1" height="2" fill="#000" />
<rect x="637" y="530" width="1" height="1" fill="#000" />
<rect x="631" y="534" width="5" height="4" fill="#fff" />
<rect x="625" y="536" width="4" height="1" fill="#fff" />
<rect x="637" y="533" width="1" height="2" fill="#000" />
<rect x="637" y="536" width="1" height="1" fill="#000" />
<rect x="631" y="540" width="5" height="4" fill="#fff" />
<rect x="625" y="542" width="4" height="1" fill="#fff" />
<rect x="637" y="539" width="1" height="2" fill="#000" />
<rect x="637" y="542" width="1" height="1" fill="#000" />
<rect x="631" y="546" width="5" height="4" fill="#fff" />
<rect x="625" y="547" width="4" height="2" fill="#fff" />
<rect x="637" y="545" width="1" height="2" fill="#000" />
<rect x="637" y="548" width="1" height="1" fill="#000" />
<rect x="631" y="551" width="5" height="4" fill="#fff" />
<rect x="625" y="552" width="4" height="2" fill="#fff" />
<rect x="637" y="550" width="1" height="2" fill="#000" />
<rect x="637" y="553" width="1" height="1" fill="#000" />
<rect x="631" y="557" width="5" height="4" fill="#fff" />
<rect x="625" y="559" width="6" height="1" fill="#fff" />
<rect x="637" y="556" width="1" height="2" fill="#000" />
<rect x="637" y="559" width="1" height="1" fill="#000" />
<rect x="631" y="563" width="5" height="4" fill="#fff" />
<rect x="625" y="564" width="4" height="2" fill="#fff" />
<rect x="637" y="562" width="1" height="2" fill="#000" />
<rect x="637" y="565" width="1" height="1" fill="#000" />
<rect x="631" y="569" width="5" height="4" fill="#fff" />
<rect x="625" y="570" width="4" height="2" fill="#fff" />
<rect x="637" y="568" width="1" height="2" fill="#000" />
<rect x="637" y="571" width="1" height="1" fill="#000" />
<rect x="649" y="376" width="1" height="7" fill="#000" />
<rect x="656" y="376" width="1" height="7" fill="#000" />
<rect x="648" y="593" width="1" height="7" fill="#000" />
<rect x="655" y="593" width="1" height="7" fill="#000" />
<rect x="642" y="383" width="17" height="4" fill="#000" />
<rect x="642" y="590" width="17" height="3" fill="#000" />
<polyline points="656.5,387 656.5,396.5 647.5,396.5 647.5,393.5 642,393.5" fill="none" stroke="#000" stroke-width="1" />
<polyline points="647.5,387 647.5,389.5 649.5,389.5 649.5,393.5 647,393.5" fill="none" stroke="#000" stroke-width="1" />
<polyline points="656.5,590 656.5,580.5 647.5,580.5 647.5,582.5 642,582.5" fill="none" stroke="#000" stroke-width="1" />
<polyline points="646.5,590 646.5,587.5 649.5,587.5 649.5,582.5 647,582.5" fill="none" stroke="#000" stroke-width="1" />
<rect x="644" y="401" width="13" height="175" fill="#000" />
<rect x="651" y="404" width="5" height="4" fill="#fff" />
<rect x="645" y="405" width="4" height="2" fill="#fff" />
<rect x="657" y="403" width="1" height="2" fill="#000" />
<rect x="657" y="406" width="1" height="1" fill="#000" />
<rect x="651" y="410" width="5" height="4" fill="#fff" />
<rect x="645" y="411" width="4" height="2" fill="#fff" />
<rect x="657" y="409" width="1" height="2" fill="#000" />
<rect x="657" y="412" width="1" height="1" fill="#000" />
<rect x="651" y="416" width="5" height="4" fill="#fff" />
<rect x="645" y="418" width="4" height="1" fill="#fff" />
<rect x="657" y="415" width="1" height="2" fill="#000" />
<rect x="657" y="418" width="1" height="1" fill="#000" />
<rect x="651" y="422" width="5" height="4" fill="#fff" />
<rect x="645" y="424" width="6" height="1" fill="#fff" />
<rect x="657" y="421" width="1" height="2" fill="#000" />
<rect x="657" y="424" width="1" height="1" fill="#000" />
<rect x="651" y="428" width="5" height="4" fill="#fff" />
<rect x="645" y="430" width="6" height="1" fill="#fff" />
<rect x="657" y="427" width="1" height="2" fill="#000" />
<rect x="657" y="430" width="1" height="1" fill="#000" />
<rect x="651" y="433" width="5" height="4" fill="#fff" />
<rect x="645" y="435" width="4" height="1" fill="#fff" />
<rect x="657" y="432" width="1" height="2" fill="#000" />
<rect x="657" y="435" width="1" height="1" fill="#000" />
<rect x="651" y="439" width="5" height="4" fill="#fff" />
<rect x="645" y="440" width="4" height="2" fill="#fff" />
<rect x="657" y="438" width="1" height="2" fill="#000" />
<rect x="657" y="441" width="1" height="1" fill="#000" />
<rect x="651" y="445" width="5" height="4" fill="#fff" />
<rect x="645" y="447" width="4" height="1" fill="#fff" />
<rect x="657" y="444" width="1" height="2" fill="#000" />
<rect x="657" y="447" width="1" height="1" fill="#000" />
<rect x="651" y="451" width="5" height="4" fill="#fff" />
<rect x="645" y="453" width="4" height="1" fill="#fff" />
<rect x="657" y="450" width="1" height="2" fill="#000" />
<rect x="657" y="453" width="1" height="1" fill="#000" />
<rect x="651" y="457" width="5" height="4" fill="#fff" />
<rect x="645" y="459" width="4" height="1" fill="#fff" />
<rect x="657" y="456" width="1" height="2" fill="#000" />
<rect x="657" y="459" width="1" height="1" fill="#000" />
<rect x="651" y="463" width="5" height="4" fill="#fff" />
<rect x="645" y="465" width="4" height="1" fill="#fff" />
<rect x="657" y="462" width="1" height="2" fill="#000" />
<rect x="657" y="465" width="1" height="1" fill="#000" />
<rect x="651" y="469" width="5" height="4" fill="#fff" />
<rect x="645" y="471" width="6" height="1" fill="#fff" />
<rect x="657" y="468" width="1" height="2" fill="#000" />
<rect x="657" y="471" width="1" height="1" fill="#000" />
<rect x="651" y="475" width="5" height="4" fill="#fff" />
<rect x="645" y="477" width="4" height="1" fill="#fff" />
<rect x="657" y="474" width="1" height="2" fill="#000" />
<rect x="657" y="477" width="1" height="1" fill="#000" />
<rect x="651" y="498" width="5" height="4" fill="#fff" />
<rect x="645" y="500" width="4" height="1" fill="#fff" />
<rect x="657" y="497" width="1" height="2" fill="#000" />
<rect x="657" y="500" width="1" height="1" fill="#000" />
<rect x="651" y="504" width="5" height="4" fill="#fff" />
<rect x="645" y="506" width="6" height="1" fill="#fff" />
<rect x="657" y="503" width="1" height="2" fill="#000" />
<rect x="657" y="506" width="1" height="1" fill="#000" />
<rect x="651" y="510" width="5" height="4" fill="#fff" />
<rect x="645" y="512" width="6" height="1" fill="#fff" />
<rect x="657" y="509" width="1" height="2" fill="#000" />
<rect x="657" y="512" width="1" height="1" fill="#000" />
<rect x="651" y="516" width="5" height="4" fill="#fff" />
<rect x="645" y="518" width="4" height="1" fill="#fff" />
<rect x="657" y="515" width="1" height="2" fill="#000" />
<rect x="657" y="518" width="1" height="1" fill="#000" />
<rect x="651" y="522" width="5" height="4" fill="#fff" />
<rect x="645" y="524" width="4" height="1" fill="#fff" />
<rect x="657" y="521" width="1" height="2" fill="#000" />
<rect x="657" y="524" width="1" height="1" fill="#000" />
<rect x="651" y="528" width="5" height="4" fill="#fff" />
<rect x="645" y="530" width="4" height="1" fill="#fff" />
<rect x="657" y="527" width="1" height="2" fill="#000" />
<rect x="657" y="530" width="1" height="1" fill="#000" />
<rect x="651" y="534" width="5" height="4" fill="#fff" />
<rect x="645" y="536" width="4" height="1" fill="#fff" />
<rect x="657" y="533" width="1" height="2" fill="#000" />
<rect x="657" y="536" width="1" height="1" fill="#000" />
<rect x="651" y="540" width="5" height="4" fill="#fff" />
<rect x="645" y="542" width="4" height="1" fill="#fff" />
<rect x="657" y="539" width="1" height="2" fill="#000" />
<rect x="657" y="542" width="1" height="1" fill="#000" />
<rect x="651" y="546" width="5" height="4" fill="#fff" />
<rect x="645" y="547" width="4" height="2" fill="#fff" />
<rect x="657" y="545" width="1" height="2" fill="#000" />
<rect x="657" y="548" width="1" height="1" fill="#000" />
<rect x="651" y="551" width="5" height="4" fill="#fff" />
<rect x="645" y="552" width="4" height="2" fill="#fff" />
<rect x="657" y="550" width="1" height="2" fill="#000" />
<rect x="657" y="553" width="1" height="1" fill="#000" />
<rect x="651" y="557" width="5" height="4" fill="#fff" />
<rect x="645" y="559" width="6" height="1" fill="#fff" />
<rect x="657" y="556" width="1" height="2" fill="#000" />
<rect x="657" y="559" width="1" height="1" fill="#000" />
<rect x="651" y="563" width="5" height="4" fill="#fff" />
<rect x="645" y="564" width="4" height="2" fill="#fff" />
<rect x="657" y="562" width="1" height="2" fill="#000" />
<rect x="657" y="565" width="1" height="1" fill="#000" />
<rect x="651" y="569" width="5" height="4" fill="#fff" />
<rect x="645" y="570" width="4" height="2" fill="#fff" />
<rect x="657" y="568" width="1" height="2" fill="#000" />
<rect x="657" y="571" width="1" height="1" fill="#000" />
<rect x="585" y="478" width="72" height="19" fill="#000" />
<rect x="586" y="481" width="4" height="2" fill="#fff" />
<rect x="586" y="487" width="4" height="2" fill="#fff" />
<rect x="586" y="493" width="4" height="2" fill="#fff" />
<rect x="651" y="480" width="4" height="4" fill="#fff" />
<rect x="651" y="486" width="4" height="4" fill="#fff" />
<rect x="651" y="492" width="4" height="4" fill="#fff" />
<rect x="593" y="481" width="56" height="14" fill="#fff" />
</g>
<g transform="translate(597.5,492) scale(0.72,1)"><text x="0" y="0" font-size="13.81" textLength="63.89" lengthAdjust="spacing" fill="#000" font-weight="normal">BANK 1</text></g>
<g shape-rendering="crispEdges">
<rect x="666" y="375" width="78" height="1" fill="#000" />
<rect x="666" y="600" width="78" height="1" fill="#000" />
<rect x="666" y="375" width="1" height="226" fill="#000" />
<rect x="743" y="375" width="1" height="226" fill="#000" />
<rect x="684" y="375" width="2" height="226" fill="#000" />
<rect x="673" y="376" width="1" height="7" fill="#000" />
<rect x="680" y="376" width="1" height="7" fill="#000" />
<rect x="672" y="593" width="1" height="7" fill="#000" />
<rect x="679" y="593" width="1" height="7" fill="#000" />
<rect x="666" y="383" width="17" height="4" fill="#000" />
<rect x="666" y="590" width="17" height="3" fill="#000" />
<polyline points="680.5,387 680.5,396.5 671.5,396.5 671.5,393.5 666,393.5" fill="none" stroke="#000" stroke-width="1" />
<polyline points="671.5,387 671.5,389.5 673.5,389.5 673.5,393.5 671,393.5" fill="none" stroke="#000" stroke-width="1" />
<polyline points="680.5,590 680.5,580.5 671.5,580.5 671.5,582.5 666,582.5" fill="none" stroke="#000" stroke-width="1" />
<polyline points="670.5,590 670.5,587.5 673.5,587.5 673.5,582.5 671,582.5" fill="none" stroke="#000" stroke-width="1" />
<rect x="668" y="401" width="13" height="175" fill="#000" />
<rect x="675" y="404" width="5" height="4" fill="#fff" />
<rect x="669" y="405" width="4" height="2" fill="#fff" />
<rect x="681" y="403" width="1" height="2" fill="#000" />
<rect x="681" y="406" width="1" height="1" fill="#000" />
<rect x="675" y="410" width="5" height="4" fill="#fff" />
<rect x="669" y="411" width="4" height="2" fill="#fff" />
<rect x="681" y="409" width="1" height="2" fill="#000" />
<rect x="681" y="412" width="1" height="1" fill="#000" />
<rect x="675" y="416" width="5" height="4" fill="#fff" />
<rect x="669" y="418" width="4" height="1" fill="#fff" />
<rect x="681" y="415" width="1" height="2" fill="#000" />
<rect x="681" y="418" width="1" height="1" fill="#000" />
<rect x="675" y="422" width="5" height="4" fill="#fff" />
<rect x="669" y="424" width="6" height="1" fill="#fff" />
<rect x="681" y="421" width="1" height="2" fill="#000" />
<rect x="681" y="424" width="1" height="1" fill="#000" />
<rect x="675" y="428" width="5" height="4" fill="#fff" />
<rect x="669" y="430" width="6" height="1" fill="#fff" />
<rect x="681" y="427" width="1" height="2" fill="#000" />
<rect x="681" y="430" width="1" height="1" fill="#000" />
<rect x="675" y="433" width="5" height="4" fill="#fff" />
<rect x="669" y="435" width="4" height="1" fill="#fff" />
<rect x="681" y="432" width="1" height="2" fill="#000" />
<rect x="681" y="435" width="1" height="1" fill="#000" />
<rect x="675" y="439" width="5" height="4" fill="#fff" />
<rect x="669" y="440" width="4" height="2" fill="#fff" />
<rect x="681" y="438" width="1" height="2" fill="#000" />
<rect x="681" y="441" width="1" height="1" fill="#000" />
<rect x="675" y="445" width="5" height="4" fill="#fff" />
<rect x="669" y="447" width="4" height="1" fill="#fff" />
<rect x="681" y="444" width="1" height="2" fill="#000" />
<rect x="681" y="447" width="1" height="1" fill="#000" />
<rect x="675" y="451" width="5" height="4" fill="#fff" />
<rect x="669" y="453" width="4" height="1" fill="#fff" />
<rect x="681" y="450" width="1" height="2" fill="#000" />
<rect x="681" y="453" width="1" height="1" fill="#000" />
<rect x="675" y="457" width="5" height="4" fill="#fff" />
<rect x="669" y="459" width="4" height="1" fill="#fff" />
<rect x="681" y="456" width="1" height="2" fill="#000" />
<rect x="681" y="459" width="1" height="1" fill="#000" />
<rect x="675" y="463" width="5" height="4" fill="#fff" />
<rect x="669" y="465" width="4" height="1" fill="#fff" />
<rect x="681" y="462" width="1" height="2" fill="#000" />
<rect x="681" y="465" width="1" height="1" fill="#000" />
<rect x="675" y="469" width="5" height="4" fill="#fff" />
<rect x="669" y="471" width="6" height="1" fill="#fff" />
<rect x="681" y="468" width="1" height="2" fill="#000" />
<rect x="681" y="471" width="1" height="1" fill="#000" />
<rect x="675" y="475" width="5" height="4" fill="#fff" />
<rect x="669" y="477" width="4" height="1" fill="#fff" />
<rect x="681" y="474" width="1" height="2" fill="#000" />
<rect x="681" y="477" width="1" height="1" fill="#000" />
<rect x="675" y="498" width="5" height="4" fill="#fff" />
<rect x="669" y="500" width="4" height="1" fill="#fff" />
<rect x="681" y="497" width="1" height="2" fill="#000" />
<rect x="681" y="500" width="1" height="1" fill="#000" />
<rect x="675" y="504" width="5" height="4" fill="#fff" />
<rect x="669" y="506" width="6" height="1" fill="#fff" />
<rect x="681" y="503" width="1" height="2" fill="#000" />
<rect x="681" y="506" width="1" height="1" fill="#000" />
<rect x="675" y="510" width="5" height="4" fill="#fff" />
<rect x="669" y="512" width="6" height="1" fill="#fff" />
<rect x="681" y="509" width="1" height="2" fill="#000" />
<rect x="681" y="512" width="1" height="1" fill="#000" />
<rect x="675" y="516" width="5" height="4" fill="#fff" />
<rect x="669" y="518" width="4" height="1" fill="#fff" />
<rect x="681" y="515" width="1" height="2" fill="#000" />
<rect x="681" y="518" width="1" height="1" fill="#000" />
<rect x="675" y="522" width="5" height="4" fill="#fff" />
<rect x="669" y="524" width="4" height="1" fill="#fff" />
<rect x="681" y="521" width="1" height="2" fill="#000" />
<rect x="681" y="524" width="1" height="1" fill="#000" />
<rect x="675" y="528" width="5" height="4" fill="#fff" />
<rect x="669" y="530" width="4" height="1" fill="#fff" />
<rect x="681" y="527" width="1" height="2" fill="#000" />
<rect x="681" y="530" width="1" height="1" fill="#000" />
<rect x="675" y="534" width="5" height="4" fill="#fff" />
<rect x="669" y="536" width="4" height="1" fill="#fff" />
<rect x="681" y="533" width="1" height="2" fill="#000" />
<rect x="681" y="536" width="1" height="1" fill="#000" />
<rect x="675" y="540" width="5" height="4" fill="#fff" />
<rect x="669" y="542" width="4" height="1" fill="#fff" />
<rect x="681" y="539" width="1" height="2" fill="#000" />
<rect x="681" y="542" width="1" height="1" fill="#000" />
<rect x="675" y="546" width="5" height="4" fill="#fff" />
<rect x="669" y="547" width="4" height="2" fill="#fff" />
<rect x="681" y="545" width="1" height="2" fill="#000" />
<rect x="681" y="548" width="1" height="1" fill="#000" />
<rect x="675" y="551" width="5" height="4" fill="#fff" />
<rect x="669" y="552" width="4" height="2" fill="#fff" />
<rect x="681" y="550" width="1" height="2" fill="#000" />
<rect x="681" y="553" width="1" height="1" fill="#000" />
<rect x="675" y="557" width="5" height="4" fill="#fff" />
<rect x="669" y="559" width="6" height="1" fill="#fff" />
<rect x="681" y="556" width="1" height="2" fill="#000" />
<rect x="681" y="559" width="1" height="1" fill="#000" />
<rect x="675" y="563" width="5" height="4" fill="#fff" />
<rect x="669" y="564" width="4" height="2" fill="#fff" />
<rect x="681" y="562" width="1" height="2" fill="#000" />
<rect x="681" y="565" width="1" height="1" fill="#000" />
<rect x="675" y="569" width="5" height="4" fill="#fff" />
<rect x="669" y="570" width="4" height="2" fill="#fff" />
<rect x="681" y="568" width="1" height="2" fill="#000" />
<rect x="681" y="571" width="1" height="1" fill="#000" />
<rect x="704" y="375" width="2" height="226" fill="#000" />
<rect x="693" y="376" width="1" height="7" fill="#000" />
<rect x="700" y="376" width="1" height="7" fill="#000" />
<rect x="692" y="593" width="1" height="7" fill="#000" />
<rect x="699" y="593" width="1" height="7" fill="#000" />
<rect x="686" y="383" width="17" height="4" fill="#000" />
<rect x="686" y="590" width="17" height="3" fill="#000" />
<polyline points="700.5,387 700.5,396.5 691.5,396.5 691.5,393.5 686,393.5" fill="none" stroke="#000" stroke-width="1" />
<polyline points="691.5,387 691.5,389.5 693.5,389.5 693.5,393.5 691,393.5" fill="none" stroke="#000" stroke-width="1" />
<polyline points="700.5,590 700.5,580.5 691.5,580.5 691.5,582.5 686,582.5" fill="none" stroke="#000" stroke-width="1" />
<polyline points="690.5,590 690.5,587.5 693.5,587.5 693.5,582.5 691,582.5" fill="none" stroke="#000" stroke-width="1" />
<rect x="688" y="401" width="13" height="175" fill="#000" />
<rect x="695" y="404" width="5" height="4" fill="#fff" />
<rect x="689" y="405" width="4" height="2" fill="#fff" />
<rect x="701" y="403" width="1" height="2" fill="#000" />
<rect x="701" y="406" width="1" height="1" fill="#000" />
<rect x="695" y="410" width="5" height="4" fill="#fff" />
<rect x="689" y="411" width="4" height="2" fill="#fff" />
<rect x="701" y="409" width="1" height="2" fill="#000" />
<rect x="701" y="412" width="1" height="1" fill="#000" />
<rect x="695" y="416" width="5" height="4" fill="#fff" />
<rect x="689" y="418" width="4" height="1" fill="#fff" />
<rect x="701" y="415" width="1" height="2" fill="#000" />
<rect x="701" y="418" width="1" height="1" fill="#000" />
<rect x="695" y="422" width="5" height="4" fill="#fff" />
<rect x="689" y="424" width="6" height="1" fill="#fff" />
<rect x="701" y="421" width="1" height="2" fill="#000" />
<rect x="701" y="424" width="1" height="1" fill="#000" />
<rect x="695" y="428" width="5" height="4" fill="#fff" />
<rect x="689" y="430" width="6" height="1" fill="#fff" />
<rect x="701" y="427" width="1" height="2" fill="#000" />
<rect x="701" y="430" width="1" height="1" fill="#000" />
<rect x="695" y="433" width="5" height="4" fill="#fff" />
<rect x="689" y="435" width="4" height="1" fill="#fff" />
<rect x="701" y="432" width="1" height="2" fill="#000" />
<rect x="701" y="435" width="1" height="1" fill="#000" />
<rect x="695" y="439" width="5" height="4" fill="#fff" />
<rect x="689" y="440" width="4" height="2" fill="#fff" />
<rect x="701" y="438" width="1" height="2" fill="#000" />
<rect x="701" y="441" width="1" height="1" fill="#000" />
<rect x="695" y="445" width="5" height="4" fill="#fff" />
<rect x="689" y="447" width="4" height="1" fill="#fff" />
<rect x="701" y="444" width="1" height="2" fill="#000" />
<rect x="701" y="447" width="1" height="1" fill="#000" />
<rect x="695" y="451" width="5" height="4" fill="#fff" />
<rect x="689" y="453" width="4" height="1" fill="#fff" />
<rect x="701" y="450" width="1" height="2" fill="#000" />
<rect x="701" y="453" width="1" height="1" fill="#000" />
<rect x="695" y="457" width="5" height="4" fill="#fff" />
<rect x="689" y="459" width="4" height="1" fill="#fff" />
<rect x="701" y="456" width="1" height="2" fill="#000" />
<rect x="701" y="459" width="1" height="1" fill="#000" />
<rect x="695" y="463" width="5" height="4" fill="#fff" />
<rect x="689" y="465" width="4" height="1" fill="#fff" />
<rect x="701" y="462" width="1" height="2" fill="#000" />
<rect x="701" y="465" width="1" height="1" fill="#000" />
<rect x="695" y="469" width="5" height="4" fill="#fff" />
<rect x="689" y="471" width="6" height="1" fill="#fff" />
<rect x="701" y="468" width="1" height="2" fill="#000" />
<rect x="701" y="471" width="1" height="1" fill="#000" />
<rect x="695" y="475" width="5" height="4" fill="#fff" />
<rect x="689" y="477" width="4" height="1" fill="#fff" />
<rect x="701" y="474" width="1" height="2" fill="#000" />
<rect x="701" y="477" width="1" height="1" fill="#000" />
<rect x="695" y="498" width="5" height="4" fill="#fff" />
<rect x="689" y="500" width="4" height="1" fill="#fff" />
<rect x="701" y="497" width="1" height="2" fill="#000" />
<rect x="701" y="500" width="1" height="1" fill="#000" />
<rect x="695" y="504" width="5" height="4" fill="#fff" />
<rect x="689" y="506" width="6" height="1" fill="#fff" />
<rect x="701" y="503" width="1" height="2" fill="#000" />
<rect x="701" y="506" width="1" height="1" fill="#000" />
<rect x="695" y="510" width="5" height="4" fill="#fff" />
<rect x="689" y="512" width="6" height="1" fill="#fff" />
<rect x="701" y="509" width="1" height="2" fill="#000" />
<rect x="701" y="512" width="1" height="1" fill="#000" />
<rect x="695" y="516" width="5" height="4" fill="#fff" />
<rect x="689" y="518" width="4" height="1" fill="#fff" />
<rect x="701" y="515" width="1" height="2" fill="#000" />
<rect x="701" y="518" width="1" height="1" fill="#000" />
<rect x="695" y="522" width="5" height="4" fill="#fff" />
<rect x="689" y="524" width="4" height="1" fill="#fff" />
<rect x="701" y="521" width="1" height="2" fill="#000" />
<rect x="701" y="524" width="1" height="1" fill="#000" />
<rect x="695" y="528" width="5" height="4" fill="#fff" />
<rect x="689" y="530" width="4" height="1" fill="#fff" />
<rect x="701" y="527" width="1" height="2" fill="#000" />
<rect x="701" y="530" width="1" height="1" fill="#000" />
<rect x="695" y="534" width="5" height="4" fill="#fff" />
<rect x="689" y="536" width="4" height="1" fill="#fff" />
<rect x="701" y="533" width="1" height="2" fill="#000" />
<rect x="701" y="536" width="1" height="1" fill="#000" />
<rect x="695" y="540" width="5" height="4" fill="#fff" />
<rect x="689" y="542" width="4" height="1" fill="#fff" />
<rect x="701" y="539" width="1" height="2" fill="#000" />
<rect x="701" y="542" width="1" height="1" fill="#000" />
<rect x="695" y="546" width="5" height="4" fill="#fff" />
<rect x="689" y="547" width="4" height="2" fill="#fff" />
<rect x="701" y="545" width="1" height="2" fill="#000" />
<rect x="701" y="548" width="1" height="1" fill="#000" />
<rect x="695" y="551" width="5" height="4" fill="#fff" />
<rect x="689" y="552" width="4" height="2" fill="#fff" />
<rect x="701" y="550" width="1" height="2" fill="#000" />
<rect x="701" y="553" width="1" height="1" fill="#000" />
<rect x="695" y="557" width="5" height="4" fill="#fff" />
<rect x="689" y="559" width="6" height="1" fill="#fff" />
<rect x="701" y="556" width="1" height="2" fill="#000" />
<rect x="701" y="559" width="1" height="1" fill="#000" />
<rect x="695" y="563" width="5" height="4" fill="#fff" />
<rect x="689" y="564" width="4" height="2" fill="#fff" />
<rect x="701" y="562" width="1" height="2" fill="#000" />
<rect x="701" y="565" width="1" height="1" fill="#000" />
<rect x="695" y="569" width="5" height="4" fill="#fff" />
<rect x="689" y="570" width="4" height="2" fill="#fff" />
<rect x="701" y="568" width="1" height="2" fill="#000" />
<rect x="701" y="571" width="1" height="1" fill="#000" />
<rect x="723" y="375" width="2" height="226" fill="#000" />
<rect x="712" y="376" width="1" height="7" fill="#000" />
<rect x="719" y="376" width="1" height="7" fill="#000" />
<rect x="711" y="593" width="1" height="7" fill="#000" />
<rect x="718" y="593" width="1" height="7" fill="#000" />
<rect x="705" y="383" width="17" height="4" fill="#000" />
<rect x="705" y="590" width="17" height="3" fill="#000" />
<polyline points="719.5,387 719.5,396.5 710.5,396.5 710.5,393.5 705,393.5" fill="none" stroke="#000" stroke-width="1" />
<polyline points="710.5,387 710.5,389.5 712.5,389.5 712.5,393.5 710,393.5" fill="none" stroke="#000" stroke-width="1" />
<polyline points="719.5,590 719.5,580.5 710.5,580.5 710.5,582.5 705,582.5" fill="none" stroke="#000" stroke-width="1" />
<polyline points="709.5,590 709.5,587.5 712.5,587.5 712.5,582.5 710,582.5" fill="none" stroke="#000" stroke-width="1" />
<rect x="707" y="401" width="13" height="175" fill="#000" />
<rect x="714" y="404" width="5" height="4" fill="#fff" />
<rect x="708" y="405" width="4" height="2" fill="#fff" />
<rect x="720" y="403" width="1" height="2" fill="#000" />
<rect x="720" y="406" width="1" height="1" fill="#000" />
<rect x="714" y="410" width="5" height="4" fill="#fff" />
<rect x="708" y="411" width="4" height="2" fill="#fff" />
<rect x="720" y="409" width="1" height="2" fill="#000" />
<rect x="720" y="412" width="1" height="1" fill="#000" />
<rect x="714" y="416" width="5" height="4" fill="#fff" />
<rect x="708" y="418" width="4" height="1" fill="#fff" />
<rect x="720" y="415" width="1" height="2" fill="#000" />
<rect x="720" y="418" width="1" height="1" fill="#000" />
<rect x="714" y="422" width="5" height="4" fill="#fff" />
<rect x="708" y="424" width="6" height="1" fill="#fff" />
<rect x="720" y="421" width="1" height="2" fill="#000" />
<rect x="720" y="424" width="1" height="1" fill="#000" />
<rect x="714" y="428" width="5" height="4" fill="#fff" />
<rect x="708" y="430" width="6" height="1" fill="#fff" />
<rect x="720" y="427" width="1" height="2" fill="#000" />
<rect x="720" y="430" width="1" height="1" fill="#000" />
<rect x="714" y="433" width="5" height="4" fill="#fff" />
<rect x="708" y="435" width="4" height="1" fill="#fff" />
<rect x="720" y="432" width="1" height="2" fill="#000" />
<rect x="720" y="435" width="1" height="1" fill="#000" />
<rect x="714" y="439" width="5" height="4" fill="#fff" />
<rect x="708" y="440" width="4" height="2" fill="#fff" />
<rect x="720" y="438" width="1" height="2" fill="#000" />
<rect x="720" y="441" width="1" height="1" fill="#000" />
<rect x="714" y="445" width="5" height="4" fill="#fff" />
<rect x="708" y="447" width="4" height="1" fill="#fff" />
<rect x="720" y="444" width="1" height="2" fill="#000" />
<rect x="720" y="447" width="1" height="1" fill="#000" />
<rect x="714" y="451" width="5" height="4" fill="#fff" />
<rect x="708" y="453" width="4" height="1" fill="#fff" />
<rect x="720" y="450" width="1" height="2" fill="#000" />
<rect x="720" y="453" width="1" height="1" fill="#000" />
<rect x="714" y="457" width="5" height="4" fill="#fff" />
<rect x="708" y="459" width="4" height="1" fill="#fff" />
<rect x="720" y="456" width="1" height="2" fill="#000" />
<rect x="720" y="459" width="1" height="1" fill="#000" />
<rect x="714" y="463" width="5" height="4" fill="#fff" />
<rect x="708" y="465" width="4" height="1" fill="#fff" />
<rect x="720" y="462" width="1" height="2" fill="#000" />
<rect x="720" y="465" width="1" height="1" fill="#000" />
<rect x="714" y="469" width="5" height="4" fill="#fff" />
<rect x="708" y="471" width="6" height="1" fill="#fff" />
<rect x="720" y="468" width="1" height="2" fill="#000" />
<rect x="720" y="471" width="1" height="1" fill="#000" />
<rect x="714" y="475" width="5" height="4" fill="#fff" />
<rect x="708" y="477" width="4" height="1" fill="#fff" />
<rect x="720" y="474" width="1" height="2" fill="#000" />
<rect x="720" y="477" width="1" height="1" fill="#000" />
<rect x="714" y="498" width="5" height="4" fill="#fff" />
<rect x="708" y="500" width="4" height="1" fill="#fff" />
<rect x="720" y="497" width="1" height="2" fill="#000" />
<rect x="720" y="500" width="1" height="1" fill="#000" />
<rect x="714" y="504" width="5" height="4" fill="#fff" />
<rect x="708" y="506" width="6" height="1" fill="#fff" />
<rect x="720" y="503" width="1" height="2" fill="#000" />
<rect x="720" y="506" width="1" height="1" fill="#000" />
<rect x="714" y="510" width="5" height="4" fill="#fff" />
<rect x="708" y="512" width="6" height="1" fill="#fff" />
<rect x="720" y="509" width="1" height="2" fill="#000" />
<rect x="720" y="512" width="1" height="1" fill="#000" />
<rect x="714" y="516" width="5" height="4" fill="#fff" />
<rect x="708" y="518" width="4" height="1" fill="#fff" />
<rect x="720" y="515" width="1" height="2" fill="#000" />
<rect x="720" y="518" width="1" height="1" fill="#000" />
<rect x="714" y="522" width="5" height="4" fill="#fff" />
<rect x="708" y="524" width="4" height="1" fill="#fff" />
<rect x="720" y="521" width="1" height="2" fill="#000" />
<rect x="720" y="524" width="1" height="1" fill="#000" />
<rect x="714" y="528" width="5" height="4" fill="#fff" />
<rect x="708" y="530" width="4" height="1" fill="#fff" />
<rect x="720" y="527" width="1" height="2" fill="#000" />
<rect x="720" y="530" width="1" height="1" fill="#000" />
<rect x="714" y="534" width="5" height="4" fill="#fff" />
<rect x="708" y="536" width="4" height="1" fill="#fff" />
<rect x="720" y="533" width="1" height="2" fill="#000" />
<rect x="720" y="536" width="1" height="1" fill="#000" />
<rect x="714" y="540" width="5" height="4" fill="#fff" />
<rect x="708" y="542" width="4" height="1" fill="#fff" />
<rect x="720" y="539" width="1" height="2" fill="#000" />
<rect x="720" y="542" width="1" height="1" fill="#000" />
<rect x="714" y="546" width="5" height="4" fill="#fff" />
<rect x="708" y="547" width="4" height="2" fill="#fff" />
<rect x="720" y="545" width="1" height="2" fill="#000" />
<rect x="720" y="548" width="1" height="1" fill="#000" />
<rect x="714" y="551" width="5" height="4" fill="#fff" />
<rect x="708" y="552" width="4" height="2" fill="#fff" />
<rect x="720" y="550" width="1" height="2" fill="#000" />
<rect x="720" y="553" width="1" height="1" fill="#000" />
<rect x="714" y="557" width="5" height="4" fill="#fff" />
<rect x="708" y="559" width="6" height="1" fill="#fff" />
<rect x="720" y="556" width="1" height="2" fill="#000" />
<rect x="720" y="559" width="1" height="1" fill="#000" />
<rect x="714" y="563" width="5" height="4" fill="#fff" />
<rect x="708" y="564" width="4" height="2" fill="#fff" />
<rect x="720" y="562" width="1" height="2" fill="#000" />
<rect x="720" y="565" width="1" height="1" fill="#000" />
<rect x="714" y="569" width="5" height="4" fill="#fff" />
<rect x="708" y="570" width="4" height="2" fill="#fff" />
<rect x="720" y="568" width="1" height="2" fill="#000" />
<rect x="720" y="571" width="1" height="1" fill="#000" />
<rect x="732" y="376" width="1" height="7" fill="#000" />
<rect x="739" y="376" width="1" height="7" fill="#000" />
<rect x="731" y="593" width="1" height="7" fill="#000" />
<rect x="738" y="593" width="1" height="7" fill="#000" />
<rect x="725" y="383" width="17" height="4" fill="#000" />
<rect x="725" y="590" width="17" height="3" fill="#000" />
<polyline points="739.5,387 739.5,396.5 730.5,396.5 730.5,393.5 725,393.5" fill="none" stroke="#000" stroke-width="1" />
<polyline points="730.5,387 730.5,389.5 732.5,389.5 732.5,393.5 730,393.5" fill="none" stroke="#000" stroke-width="1" />
<polyline points="739.5,590 739.5,580.5 730.5,580.5 730.5,582.5 725,582.5" fill="none" stroke="#000" stroke-width="1" />
<polyline points="729.5,590 729.5,587.5 732.5,587.5 732.5,582.5 730,582.5" fill="none" stroke="#000" stroke-width="1" />
<rect x="727" y="401" width="13" height="175" fill="#000" />
<rect x="734" y="404" width="5" height="4" fill="#fff" />
<rect x="728" y="405" width="4" height="2" fill="#fff" />
<rect x="740" y="403" width="1" height="2" fill="#000" />
<rect x="740" y="406" width="1" height="1" fill="#000" />
<rect x="734" y="410" width="5" height="4" fill="#fff" />
<rect x="728" y="411" width="4" height="2" fill="#fff" />
<rect x="740" y="409" width="1" height="2" fill="#000" />
<rect x="740" y="412" width="1" height="1" fill="#000" />
<rect x="734" y="416" width="5" height="4" fill="#fff" />
<rect x="728" y="418" width="4" height="1" fill="#fff" />
<rect x="740" y="415" width="1" height="2" fill="#000" />
<rect x="740" y="418" width="1" height="1" fill="#000" />
<rect x="734" y="422" width="5" height="4" fill="#fff" />
<rect x="728" y="424" width="6" height="1" fill="#fff" />
<rect x="740" y="421" width="1" height="2" fill="#000" />
<rect x="740" y="424" width="1" height="1" fill="#000" />
<rect x="734" y="428" width="5" height="4" fill="#fff" />
<rect x="728" y="430" width="6" height="1" fill="#fff" />
<rect x="740" y="427" width="1" height="2" fill="#000" />
<rect x="740" y="430" width="1" height="1" fill="#000" />
<rect x="734" y="433" width="5" height="4" fill="#fff" />
<rect x="728" y="435" width="4" height="1" fill="#fff" />
<rect x="740" y="432" width="1" height="2" fill="#000" />
<rect x="740" y="435" width="1" height="1" fill="#000" />
<rect x="734" y="439" width="5" height="4" fill="#fff" />
<rect x="728" y="440" width="4" height="2" fill="#fff" />
<rect x="740" y="438" width="1" height="2" fill="#000" />
<rect x="740" y="441" width="1" height="1" fill="#000" />
<rect x="734" y="445" width="5" height="4" fill="#fff" />
<rect x="728" y="447" width="4" height="1" fill="#fff" />
<rect x="740" y="444" width="1" height="2" fill="#000" />
<rect x="740" y="447" width="1" height="1" fill="#000" />
<rect x="734" y="451" width="5" height="4" fill="#fff" />
<rect x="728" y="453" width="4" height="1" fill="#fff" />
<rect x="740" y="450" width="1" height="2" fill="#000" />
<rect x="740" y="453" width="1" height="1" fill="#000" />
<rect x="734" y="457" width="5" height="4" fill="#fff" />
<rect x="728" y="459" width="4" height="1" fill="#fff" />
<rect x="740" y="456" width="1" height="2" fill="#000" />
<rect x="740" y="459" width="1" height="1" fill="#000" />
<rect x="734" y="463" width="5" height="4" fill="#fff" />
<rect x="728" y="465" width="4" height="1" fill="#fff" />
<rect x="740" y="462" width="1" height="2" fill="#000" />
<rect x="740" y="465" width="1" height="1" fill="#000" />
<rect x="734" y="469" width="5" height="4" fill="#fff" />
<rect x="728" y="471" width="6" height="1" fill="#fff" />
<rect x="740" y="468" width="1" height="2" fill="#000" />
<rect x="740" y="471" width="1" height="1" fill="#000" />
<rect x="734" y="475" width="5" height="4" fill="#fff" />
<rect x="728" y="477" width="4" height="1" fill="#fff" />
<rect x="740" y="474" width="1" height="2" fill="#000" />
<rect x="740" y="477" width="1" height="1" fill="#000" />
<rect x="734" y="498" width="5" height="4" fill="#fff" />
<rect x="728" y="500" width="4" height="1" fill="#fff" />
<rect x="740" y="497" width="1" height="2" fill="#000" />
<rect x="740" y="500" width="1" height="1" fill="#000" />
<rect x="734" y="504" width="5" height="4" fill="#fff" />
<rect x="728" y="506" width="6" height="1" fill="#fff" />
<rect x="740" y="503" width="1" height="2" fill="#000" />
<rect x="740" y="506" width="1" height="1" fill="#000" />
<rect x="734" y="510" width="5" height="4" fill="#fff" />
<rect x="728" y="512" width="6" height="1" fill="#fff" />
<rect x="740" y="509" width="1" height="2" fill="#000" />
<rect x="740" y="512" width="1" height="1" fill="#000" />
<rect x="734" y="516" width="5" height="4" fill="#fff" />
<rect x="728" y="518" width="4" height="1" fill="#fff" />
<rect x="740" y="515" width="1" height="2" fill="#000" />
<rect x="740" y="518" width="1" height="1" fill="#000" />
<rect x="734" y="522" width="5" height="4" fill="#fff" />
<rect x="728" y="524" width="4" height="1" fill="#fff" />
<rect x="740" y="521" width="1" height="2" fill="#000" />
<rect x="740" y="524" width="1" height="1" fill="#000" />
<rect x="734" y="528" width="5" height="4" fill="#fff" />
<rect x="728" y="530" width="4" height="1" fill="#fff" />
<rect x="740" y="527" width="1" height="2" fill="#000" />
<rect x="740" y="530" width="1" height="1" fill="#000" />
<rect x="734" y="534" width="5" height="4" fill="#fff" />
<rect x="728" y="536" width="4" height="1" fill="#fff" />
<rect x="740" y="533" width="1" height="2" fill="#000" />
<rect x="740" y="536" width="1" height="1" fill="#000" />
<rect x="734" y="540" width="5" height="4" fill="#fff" />
<rect x="728" y="542" width="4" height="1" fill="#fff" />
<rect x="740" y="539" width="1" height="2" fill="#000" />
<rect x="740" y="542" width="1" height="1" fill="#000" />
<rect x="734" y="546" width="5" height="4" fill="#fff" />
<rect x="728" y="547" width="4" height="2" fill="#fff" />
<rect x="740" y="545" width="1" height="2" fill="#000" />
<rect x="740" y="548" width="1" height="1" fill="#000" />
<rect x="734" y="551" width="5" height="4" fill="#fff" />
<rect x="728" y="552" width="4" height="2" fill="#fff" />
<rect x="740" y="550" width="1" height="2" fill="#000" />
<rect x="740" y="553" width="1" height="1" fill="#000" />
<rect x="734" y="557" width="5" height="4" fill="#fff" />
<rect x="728" y="559" width="6" height="1" fill="#fff" />
<rect x="740" y="556" width="1" height="2" fill="#000" />
<rect x="740" y="559" width="1" height="1" fill="#000" />
<rect x="734" y="563" width="5" height="4" fill="#fff" />
<rect x="728" y="564" width="4" height="2" fill="#fff" />
<rect x="740" y="562" width="1" height="2" fill="#000" />
<rect x="740" y="565" width="1" height="1" fill="#000" />
<rect x="734" y="569" width="5" height="4" fill="#fff" />
<rect x="728" y="570" width="4" height="2" fill="#fff" />
<rect x="740" y="568" width="1" height="2" fill="#000" />
<rect x="740" y="571" width="1" height="1" fill="#000" />
<rect x="668" y="478" width="73" height="19" fill="#000" />
<rect x="669" y="481" width="4" height="2" fill="#fff" />
<rect x="669" y="487" width="4" height="2" fill="#fff" />
<rect x="669" y="493" width="4" height="2" fill="#fff" />
<rect x="734" y="480" width="4" height="4" fill="#fff" />
<rect x="734" y="486" width="4" height="4" fill="#fff" />
<rect x="734" y="492" width="4" height="4" fill="#fff" />
<rect x="676" y="481" width="56" height="14" fill="#fff" />
</g>
<g transform="translate(680.5,492) scale(0.72,1)"><text x="0" y="0" font-size="13.81" textLength="63.89" lengthAdjust="spacing" fill="#000" font-weight="normal">BANK 0</text></g>
<g shape-rendering="crispEdges">
<rect x="768" y="381" width="31" height="38" fill="#000" />
<rect x="792" y="377" width="7" height="46" fill="#000" />
<rect x="795" y="375" width="4" height="50" fill="#000" />
<rect x="761" y="390" width="5" height="9" fill="#000" />
<rect x="762" y="391" width="3" height="7" fill="#fff" />
<rect x="761" y="401" width="5" height="9" fill="#000" />
<rect x="762" y="402" width="3" height="7" fill="#fff" />
<rect x="765" y="388" width="3" height="24" fill="#000" />
<rect x="766" y="391" width="1" height="1" fill="#fff" />
<rect x="766" y="393" width="1" height="1" fill="#fff" />
<rect x="766" y="395" width="1" height="1" fill="#fff" />
<rect x="766" y="403" width="1" height="1" fill="#fff" />
<rect x="766" y="405" width="1" height="1" fill="#fff" />
<rect x="766" y="407" width="1" height="1" fill="#fff" />
<rect x="766" y="398" width="1" height="4" fill="#fff" />
</g>
<g shape-rendering="crispEdges">
<rect x="765" y="475" width="24" height="111" fill="#000" />
<rect x="766" y="476" width="22" height="109" fill="#fff" />
<rect x="781" y="476" width="1" height="109" fill="#000" />
<rect x="768" y="481" width="8" height="7" fill="#000" />
<rect x="769" y="482" width="6" height="5" fill="#fff" />
<rect x="768" y="490" width="8" height="7" fill="#000" />
<rect x="769" y="491" width="6" height="5" fill="#fff" />
<rect x="768" y="500" width="8" height="7" fill="#000" />
<rect x="769" y="501" width="6" height="5" fill="#fff" />
<rect x="768" y="509" width="8" height="7" fill="#000" />
<rect x="769" y="510" width="6" height="5" fill="#fff" />
<rect x="768" y="519" width="8" height="7" fill="#000" />
<rect x="769" y="520" width="6" height="5" fill="#fff" />
<rect x="768" y="528" width="8" height="7" fill="#000" />
<rect x="769" y="529" width="6" height="5" fill="#fff" />
<rect x="768" y="538" width="8" height="7" fill="#000" />
<rect x="769" y="539" width="6" height="5" fill="#fff" />
<rect x="768" y="547" width="8" height="7" fill="#000" />
<rect x="769" y="548" width="6" height="5" fill="#fff" />
<rect x="768" y="556" width="8" height="7" fill="#000" />
<rect x="769" y="557" width="6" height="5" fill="#fff" />
<rect x="768" y="566" width="8" height="7" fill="#000" />
<rect x="769" y="567" width="6" height="5" fill="#fff" />
<rect x="768" y="575" width="8" height="7" fill="#000" />
<rect x="769" y="576" width="6" height="5" fill="#fff" />
<rect x="777" y="478" width="2" height="6" fill="#000" />
<rect x="783" y="477" width="4" height="8" fill="#000" />
<rect x="784" y="478" width="2" height="6" fill="#fff" />
<rect x="782" y="479" width="1" height="3" fill="#000" />
<rect x="777" y="487" width="2" height="6" fill="#000" />
<rect x="783" y="486" width="4" height="8" fill="#000" />
<rect x="784" y="487" width="2" height="6" fill="#fff" />
<rect x="782" y="488" width="1" height="3" fill="#000" />
<rect x="777" y="497" width="2" height="6" fill="#000" />
<rect x="783" y="496" width="4" height="8" fill="#000" />
<rect x="784" y="497" width="2" height="6" fill="#fff" />
<rect x="782" y="498" width="1" height="3" fill="#000" />
<rect x="777" y="506" width="2" height="6" fill="#000" />
<rect x="783" y="505" width="4" height="8" fill="#000" />
<rect x="784" y="506" width="2" height="6" fill="#fff" />
<rect x="782" y="507" width="1" height="3" fill="#000" />
<rect x="777" y="515" width="2" height="6" fill="#000" />
<rect x="783" y="514" width="4" height="8" fill="#000" />
<rect x="784" y="515" width="2" height="6" fill="#fff" />
<rect x="782" y="516" width="1" height="3" fill="#000" />
<rect x="777" y="525" width="2" height="6" fill="#000" />
<rect x="783" y="524" width="4" height="8" fill="#000" />
<rect x="784" y="525" width="2" height="6" fill="#fff" />
<rect x="782" y="526" width="1" height="3" fill="#000" />
<rect x="777" y="534" width="2" height="6" fill="#000" />
<rect x="783" y="533" width="4" height="8" fill="#000" />
<rect x="784" y="534" width="2" height="6" fill="#fff" />
<rect x="782" y="535" width="1" height="3" fill="#000" />
<rect x="777" y="543" width="2" height="6" fill="#000" />
<rect x="783" y="542" width="4" height="8" fill="#000" />
<rect x="784" y="543" width="2" height="6" fill="#fff" />
<rect x="782" y="544" width="1" height="3" fill="#000" />
<rect x="777" y="552" width="2" height="6" fill="#000" />
<rect x="783" y="551" width="4" height="8" fill="#000" />
<rect x="784" y="552" width="2" height="6" fill="#fff" />
<rect x="782" y="553" width="1" height="3" fill="#000" />
<rect x="777" y="562" width="2" height="6" fill="#000" />
<rect x="783" y="561" width="4" height="8" fill="#000" />
<rect x="784" y="562" width="2" height="6" fill="#fff" />
<rect x="782" y="563" width="1" height="3" fill="#000" />
<rect x="777" y="571" width="2" height="6" fill="#000" />
<rect x="783" y="570" width="4" height="8" fill="#000" />
<rect x="784" y="571" width="2" height="6" fill="#fff" />
<rect x="782" y="572" width="1" height="3" fill="#000" />
<rect x="777" y="580" width="2" height="6" fill="#000" />
<rect x="783" y="579" width="4" height="8" fill="#000" />
<rect x="784" y="580" width="2" height="6" fill="#fff" />
<rect x="782" y="581" width="1" height="3" fill="#000" />
<rect x="770" y="475" width="4" height="1" fill="#fff" />
<rect x="769" y="475" width="1" height="3" fill="#000" />
<rect x="774" y="475" width="1" height="3" fill="#000" />
<rect x="769" y="478" width="6" height="1" fill="#000" />
<rect x="770" y="585" width="4" height="1" fill="#fff" />
<rect x="769" y="583" width="1" height="3" fill="#000" />
<rect x="774" y="583" width="1" height="3" fill="#000" />
<rect x="769" y="583" width="6" height="1" fill="#000" />
</g>
<g shape-rendering="crispEdges">
<rect x="233" y="499" width="85" height="25" fill="#000" />
<rect x="236" y="501" width="3" height="5" fill="#fff" />
<rect x="236" y="516" width="3" height="6" fill="#fff" />
<rect x="242" y="501" width="3" height="5" fill="#fff" />
<rect x="242" y="516" width="4" height="6" fill="#fff" />
<rect x="248" y="501" width="4" height="5" fill="#fff" />
<rect x="248" y="516" width="3" height="6" fill="#fff" />
<rect x="254" y="501" width="3" height="5" fill="#fff" />
<rect x="254" y="516" width="4" height="6" fill="#fff" />
<rect x="259" y="501" width="3" height="5" fill="#fff" />
<rect x="259" y="516" width="3" height="6" fill="#fff" />
<rect x="265" y="501" width="3" height="5" fill="#fff" />
<rect x="265" y="516" width="3" height="6" fill="#fff" />
<rect x="271" y="501" width="3" height="5" fill="#fff" />
<rect x="271" y="516" width="3" height="6" fill="#fff" />
<rect x="277" y="501" width="3" height="5" fill="#fff" />
<rect x="277" y="516" width="4" height="6" fill="#fff" />
<rect x="283" y="501" width="4" height="5" fill="#fff" />
<rect x="283" y="516" width="3" height="6" fill="#fff" />
<rect x="289" y="501" width="4" height="5" fill="#fff" />
<rect x="289" y="516" width="4" height="6" fill="#fff" />
<rect x="294" y="501" width="3" height="5" fill="#fff" />
<rect x="294" y="516" width="3" height="6" fill="#fff" />
<rect x="300" y="501" width="4" height="5" fill="#fff" />
<rect x="300" y="516" width="4" height="6" fill="#fff" />
<rect x="306" y="501" width="4" height="5" fill="#fff" />
<rect x="306" y="516" width="3" height="6" fill="#fff" />
<rect x="312" y="501" width="3" height="5" fill="#fff" />
<rect x="312" y="516" width="4" height="6" fill="#fff" />
<rect x="241" y="509" width="34" height="5" fill="#fff" />
<rect x="280" y="509" width="32" height="5" fill="#fff" />
<rect x="233" y="509" width="2" height="5" fill="#fff" />
<rect x="235" y="510" width="1" height="3" fill="#fff" />
<rect x="233" y="525" width="85" height="25" fill="#000" />
<rect x="236" y="527" width="4" height="5" fill="#fff" />
<rect x="236" y="542" width="3" height="6" fill="#fff" />
<rect x="242" y="527" width="3" height="5" fill="#fff" />
<rect x="242" y="542" width="4" height="6" fill="#fff" />
<rect x="248" y="527" width="3" height="5" fill="#fff" />
<rect x="254" y="527" width="3" height="5" fill="#fff" />
<rect x="259" y="527" width="4" height="5" fill="#fff" />
<rect x="265" y="527" width="3" height="5" fill="#fff" />
<rect x="271" y="527" width="3" height="5" fill="#fff" />
<rect x="277" y="527" width="3" height="5" fill="#fff" />
<rect x="283" y="527" width="3" height="5" fill="#fff" />
<rect x="289" y="527" width="3" height="5" fill="#fff" />
<rect x="294" y="527" width="4" height="5" fill="#fff" />
<rect x="300" y="527" width="4" height="5" fill="#fff" />
<rect x="306" y="527" width="3" height="5" fill="#fff" />
<rect x="306" y="542" width="3" height="6" fill="#fff" />
<rect x="312" y="527" width="4" height="5" fill="#fff" />
<rect x="312" y="542" width="4" height="6" fill="#fff" />
<rect x="241" y="535" width="34" height="5" fill="#fff" />
<rect x="280" y="535" width="32" height="5" fill="#fff" />
<rect x="233" y="535" width="2" height="5" fill="#fff" />
<rect x="235" y="536" width="1" height="3" fill="#fff" />
<rect x="233" y="551" width="85" height="25" fill="#000" />
<rect x="236" y="553" width="3" height="5" fill="#fff" />
<rect x="236" y="568" width="3" height="6" fill="#fff" />
<rect x="242" y="553" width="4" height="5" fill="#fff" />
<rect x="242" y="568" width="4" height="6" fill="#fff" />
<rect x="248" y="568" width="3" height="6" fill="#fff" />
<rect x="254" y="568" width="4" height="6" fill="#fff" />
<rect x="259" y="568" width="3" height="6" fill="#fff" />
<rect x="265" y="568" width="4" height="6" fill="#fff" />
<rect x="271" y="568" width="3" height="6" fill="#fff" />
<rect x="277" y="568" width="4" height="6" fill="#fff" />
<rect x="283" y="568" width="3" height="6" fill="#fff" />
<rect x="289" y="568" width="3" height="6" fill="#fff" />
<rect x="294" y="568" width="3" height="6" fill="#fff" />
<rect x="300" y="568" width="4" height="6" fill="#fff" />
<rect x="306" y="553" width="4" height="5" fill="#fff" />
<rect x="306" y="568" width="3" height="6" fill="#fff" />
<rect x="312" y="553" width="4" height="5" fill="#fff" />
<rect x="312" y="568" width="4" height="6" fill="#fff" />
<rect x="241" y="562" width="34" height="5" fill="#fff" />
<rect x="280" y="562" width="32" height="5" fill="#fff" />
<rect x="233" y="561" width="2" height="5" fill="#fff" />
<rect x="235" y="562" width="1" height="3" fill="#fff" />
<rect x="233" y="577" width="85" height="25" fill="#000" />
<rect x="236" y="579" width="4" height="5" fill="#fff" />
<rect x="236" y="594" width="3" height="6" fill="#fff" />
<rect x="242" y="579" width="4" height="5" fill="#fff" />
<rect x="242" y="594" width="4" height="6" fill="#fff" />
<rect x="248" y="579" width="3" height="5" fill="#fff" />
<rect x="248" y="594" width="3" height="6" fill="#fff" />
<rect x="254" y="579" width="4" height="5" fill="#fff" />
<rect x="254" y="594" width="4" height="6" fill="#fff" />
<rect x="259" y="579" width="4" height="5" fill="#fff" />
<rect x="259" y="594" width="3" height="6" fill="#fff" />
<rect x="265" y="579" width="3" height="5" fill="#fff" />
<rect x="265" y="594" width="4" height="6" fill="#fff" />
<rect x="271" y="579" width="3" height="5" fill="#fff" />
<rect x="271" y="594" width="3" height="6" fill="#fff" />
<rect x="277" y="579" width="3" height="5" fill="#fff" />
<rect x="277" y="594" width="4" height="6" fill="#fff" />
<rect x="283" y="579" width="4" height="5" fill="#fff" />
<rect x="283" y="594" width="3" height="6" fill="#fff" />
<rect x="289" y="579" width="3" height="5" fill="#fff" />
<rect x="289" y="594" width="4" height="6" fill="#fff" />
<rect x="294" y="579" width="3" height="5" fill="#fff" />
<rect x="294" y="594" width="3" height="6" fill="#fff" />
<rect x="300" y="579" width="3" height="5" fill="#fff" />
<rect x="300" y="594" width="3" height="6" fill="#fff" />
<rect x="306" y="579" width="3" height="5" fill="#fff" />
<rect x="306" y="594" width="3" height="6" fill="#fff" />
<rect x="312" y="579" width="3" height="5" fill="#fff" />
<rect x="312" y="594" width="4" height="6" fill="#fff" />
<rect x="241" y="587" width="34" height="5" fill="#fff" />
<rect x="280" y="587" width="32" height="5" fill="#fff" />
<rect x="233" y="587" width="2" height="5" fill="#fff" />
<rect x="235" y="588" width="1" height="3" fill="#fff" />
<rect x="233" y="550" width="85" height="1" fill="#fff" />
<rect x="323" y="499" width="85" height="25" fill="#000" />
<rect x="326" y="501" width="3" height="5" fill="#fff" />
<rect x="326" y="516" width="3" height="6" fill="#fff" />
<rect x="332" y="501" width="3" height="5" fill="#fff" />
<rect x="332" y="516" width="4" height="6" fill="#fff" />
<rect x="338" y="501" width="4" height="5" fill="#fff" />
<rect x="338" y="516" width="3" height="6" fill="#fff" />
<rect x="344" y="501" width="3" height="5" fill="#fff" />
<rect x="344" y="516" width="4" height="6" fill="#fff" />
<rect x="349" y="501" width="3" height="5" fill="#fff" />
<rect x="349" y="516" width="3" height="6" fill="#fff" />
<rect x="355" y="501" width="3" height="5" fill="#fff" />
<rect x="355" y="516" width="3" height="6" fill="#fff" />
<rect x="361" y="501" width="3" height="5" fill="#fff" />
<rect x="361" y="516" width="3" height="6" fill="#fff" />
<rect x="367" y="501" width="3" height="5" fill="#fff" />
<rect x="367" y="516" width="4" height="6" fill="#fff" />
<rect x="373" y="501" width="4" height="5" fill="#fff" />
<rect x="373" y="516" width="3" height="6" fill="#fff" />
<rect x="379" y="501" width="4" height="5" fill="#fff" />
<rect x="379" y="516" width="4" height="6" fill="#fff" />
<rect x="384" y="501" width="3" height="5" fill="#fff" />
<rect x="384" y="516" width="3" height="6" fill="#fff" />
<rect x="390" y="501" width="4" height="5" fill="#fff" />
<rect x="390" y="516" width="4" height="6" fill="#fff" />
<rect x="396" y="501" width="4" height="5" fill="#fff" />
<rect x="396" y="516" width="3" height="6" fill="#fff" />
<rect x="402" y="501" width="3" height="5" fill="#fff" />
<rect x="402" y="516" width="4" height="6" fill="#fff" />
<rect x="331" y="509" width="34" height="5" fill="#fff" />
<rect x="370" y="509" width="32" height="5" fill="#fff" />
<rect x="323" y="509" width="2" height="5" fill="#fff" />
<rect x="325" y="510" width="1" height="3" fill="#fff" />
<rect x="323" y="525" width="85" height="25" fill="#000" />
<rect x="326" y="527" width="4" height="5" fill="#fff" />
<rect x="326" y="542" width="3" height="6" fill="#fff" />
<rect x="332" y="527" width="3" height="5" fill="#fff" />
<rect x="332" y="542" width="4" height="6" fill="#fff" />
<rect x="338" y="527" width="3" height="5" fill="#fff" />
<rect x="344" y="527" width="3" height="5" fill="#fff" />
<rect x="349" y="527" width="4" height="5" fill="#fff" />
<rect x="355" y="527" width="3" height="5" fill="#fff" />
<rect x="361" y="527" width="3" height="5" fill="#fff" />
<rect x="367" y="527" width="3" height="5" fill="#fff" />
<rect x="373" y="527" width="3" height="5" fill="#fff" />
<rect x="379" y="527" width="3" height="5" fill="#fff" />
<rect x="384" y="527" width="4" height="5" fill="#fff" />
<rect x="390" y="527" width="4" height="5" fill="#fff" />
<rect x="396" y="527" width="3" height="5" fill="#fff" />
<rect x="396" y="542" width="3" height="6" fill="#fff" />
<rect x="402" y="527" width="4" height="5" fill="#fff" />
<rect x="402" y="542" width="4" height="6" fill="#fff" />
<rect x="331" y="535" width="34" height="5" fill="#fff" />
<rect x="370" y="535" width="32" height="5" fill="#fff" />
<rect x="323" y="535" width="2" height="5" fill="#fff" />
<rect x="325" y="536" width="1" height="3" fill="#fff" />
<rect x="323" y="551" width="85" height="25" fill="#000" />
<rect x="326" y="553" width="3" height="5" fill="#fff" />
<rect x="326" y="568" width="3" height="6" fill="#fff" />
<rect x="332" y="553" width="4" height="5" fill="#fff" />
<rect x="332" y="568" width="4" height="6" fill="#fff" />
<rect x="338" y="568" width="3" height="6" fill="#fff" />
<rect x="344" y="568" width="4" height="6" fill="#fff" />
<rect x="349" y="568" width="3" height="6" fill="#fff" />
<rect x="355" y="568" width="4" height="6" fill="#fff" />
<rect x="361" y="568" width="3" height="6" fill="#fff" />
<rect x="367" y="568" width="4" height="6" fill="#fff" />
<rect x="373" y="568" width="3" height="6" fill="#fff" />
<rect x="379" y="568" width="3" height="6" fill="#fff" />
<rect x="384" y="568" width="3" height="6" fill="#fff" />
<rect x="390" y="568" width="4" height="6" fill="#fff" />
<rect x="396" y="553" width="4" height="5" fill="#fff" />
<rect x="396" y="568" width="3" height="6" fill="#fff" />
<rect x="402" y="553" width="4" height="5" fill="#fff" />
<rect x="402" y="568" width="4" height="6" fill="#fff" />
<rect x="331" y="562" width="34" height="5" fill="#fff" />
<rect x="370" y="562" width="32" height="5" fill="#fff" />
<rect x="323" y="561" width="2" height="5" fill="#fff" />
<rect x="325" y="562" width="1" height="3" fill="#fff" />
<rect x="323" y="577" width="85" height="25" fill="#000" />
<rect x="326" y="579" width="4" height="5" fill="#fff" />
<rect x="326" y="594" width="3" height="6" fill="#fff" />
<rect x="332" y="579" width="4" height="5" fill="#fff" />
<rect x="332" y="594" width="4" height="6" fill="#fff" />
<rect x="338" y="579" width="3" height="5" fill="#fff" />
<rect x="338" y="594" width="3" height="6" fill="#fff" />
<rect x="344" y="579" width="4" height="5" fill="#fff" />
<rect x="344" y="594" width="4" height="6" fill="#fff" />
<rect x="349" y="579" width="4" height="5" fill="#fff" />
<rect x="349" y="594" width="3" height="6" fill="#fff" />
<rect x="355" y="579" width="3" height="5" fill="#fff" />
<rect x="355" y="594" width="4" height="6" fill="#fff" />
<rect x="361" y="579" width="3" height="5" fill="#fff" />
<rect x="361" y="594" width="3" height="6" fill="#fff" />
<rect x="367" y="579" width="3" height="5" fill="#fff" />
<rect x="367" y="594" width="4" height="6" fill="#fff" />
<rect x="373" y="579" width="4" height="5" fill="#fff" />
<rect x="373" y="594" width="3" height="6" fill="#fff" />
<rect x="379" y="579" width="3" height="5" fill="#fff" />
<rect x="379" y="594" width="4" height="6" fill="#fff" />
<rect x="384" y="579" width="3" height="5" fill="#fff" />
<rect x="384" y="594" width="3" height="6" fill="#fff" />
<rect x="390" y="579" width="3" height="5" fill="#fff" />
<rect x="390" y="594" width="3" height="6" fill="#fff" />
<rect x="396" y="579" width="3" height="5" fill="#fff" />
<rect x="396" y="594" width="3" height="6" fill="#fff" />
<rect x="402" y="579" width="3" height="5" fill="#fff" />
<rect x="402" y="594" width="4" height="6" fill="#fff" />
<rect x="331" y="587" width="34" height="5" fill="#fff" />
<rect x="370" y="587" width="32" height="5" fill="#fff" />
<rect x="323" y="587" width="2" height="5" fill="#fff" />
<rect x="325" y="588" width="1" height="3" fill="#fff" />
<rect x="323" y="550" width="85" height="1" fill="#fff" />
</g>
<rect x="248" y="543" width="55" height="15" rx="2" fill="#fff"/>
<g transform="translate(252,555) scale(0.72,1)"><text x="0" y="0" font-size="13.81" textLength="63.89" lengthAdjust="spacing" fill="#000" font-weight="normal">BANK 1</text></g>
<rect x="338" y="543" width="55" height="15" rx="2" fill="#fff"/>
<g transform="translate(342,555) scale(0.72,1)"><text x="0" y="0" font-size="13.81" textLength="65.28" lengthAdjust="spacing" fill="#000" font-weight="normal">BANK 0</text></g>
<polygon points="299,461 343,461 346,464 346,477 343,480 299,480 296,477 296,464" fill="#000" stroke="none" stroke-width="1" />
<polygon points="299,463 343,463 344,464 344,477 343,478 299,478 298,477 298,464" fill="#fff" stroke="none" stroke-width="1" />
<g transform="translate(299,475) scale(0.72,1)"><text x="0" y="0" font-size="14.53" textLength="59.72" lengthAdjust="spacing" fill="#000" font-weight="normal">CACHE</text></g>
<rect x="298" y="463" width="46" height="1" fill="#000" />
<polyline points="233.5,497.5 243.5,487.5 314,487.5 320.5,481.5 327,488.5 397,488.5 407.5,497.5" fill="none" stroke="#000" stroke-width="1" />
</svg></body></html>
